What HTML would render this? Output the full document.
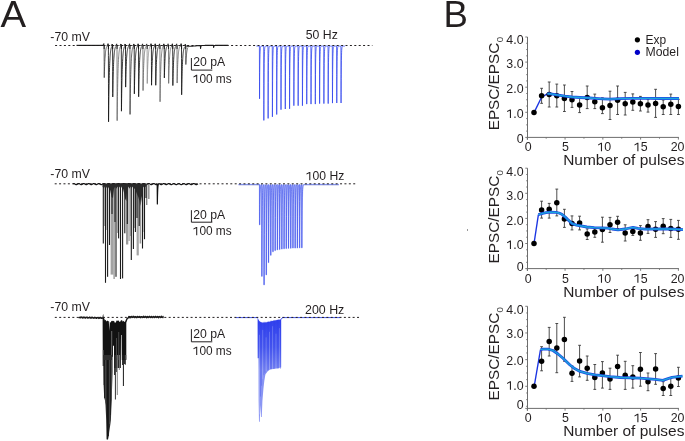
<!DOCTYPE html>
<html><head><meta charset="utf-8"><title>Figure</title>
<style>
html,body{margin:0;padding:0;background:#fff;}
svg{display:block;font-family:"Liberation Sans",sans-serif;will-change:transform;}
</style></head>
<body>
<svg width="685" height="441" viewBox="0 0 685 441">
<rect width="685" height="441" fill="#fff"/>
<text x="0.6" y="27" font-size="37" fill="#231f20" textLength="25.6" lengthAdjust="spacingAndGlyphs">A</text>
<text x="443.6" y="27.1" font-size="37" fill="#231f20" textLength="24.4" lengthAdjust="spacingAndGlyphs">B</text>
<path d="M76.5,45.4 L103.6,45.4" fill="none" stroke="#1a1a1a" stroke-width="1.2" stroke-linejoin="round"/>
<path d="M186.5,46.06 186.6,46.07 186.7,46.07 186.8,46.08 186.9,46.09 187,46.1 187.1,46.1 187.2,46.11 187.3,46.11 187.4,46.12 187.5,46.13 187.6,46.13 187.7,46.14 187.8,46.14 187.9,46.15 188,46.15 188.1,46.16 188.2,46.16 188.3,46.16 188.4,46.17 188.5,46.17 188.6,46.18 188.7,46.18 188.8,46.18 188.9,46.19 189,46.19 189.1,46.19 189.2,46.19 189.3,46.19 189.4,46.2 189.5,46.2 189.6,46.2 189.7,46.2 189.8,46.2 189.9,46.2 190,46.2 190.1,46.2 190.2,46.2 190.3,46.2 190.4,46.2 190.5,46.2 190.6,46.2 190.7,46.19 190.8,46.19 190.9,46.19 191,46.19 191.1,46.19 191.2,46.18 191.3,46.18 191.4,46.18 191.5,46.17 191.6,46.17 191.7,46.16 191.8,46.16 191.9,46.16 192,46.15 192.1,46.15 192.2,46.14 192.3,46.14 192.4,46.13 192.5,46.13 192.6,46.12 192.7,46.11 192.8,46.11 192.9,46.1 193,46.1 193.1,46.09 193.2,46.08 193.3,46.07 193.4,46.07 193.5,46.06 193.6,46.05 193.7,46.05 193.8,46.04 193.9,46.03 194,46.02 194.1,46.02 194.2,46.01 194.3,46 194.4,45.99 194.5,45.98 194.6,45.97 194.7,45.97 194.8,45.96 194.9,45.95 195,45.94 195.1,45.93 195.2,45.92 195.3,45.92 195.4,45.91 195.5,45.9 195.6,45.89 195.7,45.88 195.8,45.87 195.9,45.86 196,45.86 196.1,45.85 196.2,45.84 196.3,45.83 196.4,45.82 196.5,45.81 196.6,45.81 196.7,45.8 196.8,45.79 196.9,45.78 197,45.77 197.1,45.76 197.2,45.76 197.3,45.75 197.4,45.74 197.5,45.73 197.6,45.72 197.7,45.72 197.8,45.71 197.9,45.7 198,45.69 198.1,45.69 198.2,45.68 198.3,45.67 198.4,45.67 198.5,45.66 198.6,45.65 198.7,45.65 198.8,45.64 198.9,45.63 199,45.63 199.1,45.62 199.2,45.61 199.3,45.61 199.4,45.6 199.5,45.6 199.6,45.59 199.7,45.58 199.8,45.58 199.9,45.57 200,45.57 200.1,45.56 200.2,45.56 200.3,45.55 200.39,45.55 200.4,45.55 200.47,47.04 200.5,47.54 200.55,48.54 200.6,48.08 200.7,47.35 200.8,46.83 200.9,46.46 201,46.19 201.1,46 201.2,45.86 201.3,45.76 201.4,45.68 201.5,45.63 201.6,45.59 201.7,45.56 201.8,45.54 201.9,45.52 202,45.51 202.1,45.5 202.2,45.49 202.3,45.48 202.4,45.48 202.5,45.47 202.6,45.47 202.7,45.47 202.8,45.46 202.9,45.46 203,45.46 203.1,45.46 203.2,45.45 203.3,45.45 203.4,45.45 203.5,45.45 203.6,45.44 203.7,45.44 203.8,45.44 203.9,45.44 204,45.44 204.1,45.44 204.2,45.43 204.3,45.43 204.4,45.43 204.5,45.43 204.6,45.43 204.7,45.43 204.8,45.43 204.9,45.42 205,45.42 205.1,45.42 205.2,45.42 205.3,45.42 205.4,45.42 205.5,45.42 205.6,45.42 205.7,45.42 205.8,45.42 205.9,45.42 206,45.41 206.1,45.41 206.2,45.41 206.3,45.41 206.4,45.41 206.5,45.41 206.6,45.41 206.7,45.41 206.8,45.41 206.9,45.41 207,45.41 207.1,45.41 207.2,45.41 207.3,45.41 207.4,45.41 207.5,45.41 207.6,45.41 207.7,45.41 207.8,45.41 207.9,45.41 208,45.41 208.1,45.4 208.2,45.4 208.3,45.4 208.4,45.4 208.5,45.4 208.6,45.4 208.7,45.4 208.8,45.4 208.9,45.4 209,45.4 209.1,45.4 209.2,45.4 209.3,45.4 209.4,45.4 209.5,45.4 209.6,45.4 209.7,45.4 209.8,45.4 209.9,45.4 210,45.4 210.1,45.4 210.2,45.4 210.3,45.4 210.4,45.4 210.5,45.4 210.6,45.4 210.7,45.4 210.8,45.4 210.9,45.4 211,45.4 211.1,45.4 211.2,45.4 211.3,45.4 211.4,45.4 211.5,45.4 211.6,45.4 211.7,45.4 211.8,45.4 211.9,45.4 212,45.4 212.1,45.4 212.2,45.4 212.3,45.4 212.4,45.4 212.5,45.4 212.6,45.4 212.7,45.4 212.8,45.4 212.9,45.4 213,45.4 213.1,45.4 213.2,45.4 213.3,45.4 213.4,45.4 213.49,45.4 213.5,45.4 213.57,46.4 213.6,46.73 213.65,47.4 213.7,47.09 213.8,46.61 213.9,46.27 214,46.02 214.1,45.85 214.2,45.72 214.3,45.63 214.4,45.56 214.5,45.52 214.6,45.48 214.7,45.46 214.8,45.44 214.9,45.43 215,45.42 215.1,45.42 215.2,45.41 215.3,45.41 215.4,45.41 215.5,45.4 215.6,45.4 215.7,45.4 215.8,45.4 215.9,45.4 216,45.4 216.1,45.4 216.2,45.4 216.3,45.4 216.4,45.4 216.5,45.4 216.6,45.4 216.7,45.4 216.8,45.4 216.9,45.4 217,45.4 217.1,45.4 217.2,45.4 217.3,45.4 217.4,45.4 217.5,45.4 217.6,45.4 217.7,45.4 217.8,45.4 217.9,45.4 218,45.4 218.1,45.4 218.2,45.4 218.3,45.4 218.4,45.4 218.5,45.4 218.6,45.4 218.7,45.4 218.8,45.4 218.9,45.4 219,45.4 219.1,45.4 219.2,45.4 219.3,45.4 219.4,45.4 219.5,45.4 219.6,45.4 219.7,45.4 219.8,45.4 219.9,45.4 220,45.4 220.1,45.4 220.2,45.4 220.3,45.4 220.4,45.4 220.5,45.4 220.6,45.4 220.7,45.4 220.8,45.4 220.9,45.4 221,45.4 221.1,45.4 221.2,45.4 221.3,45.4 221.4,45.4 221.5,45.4 221.6,45.4 221.7,45.4 221.8,45.4 221.9,45.4 222,45.4 222.1,45.4 222.2,45.4 222.3,45.4 222.4,45.4 222.5,45.4 222.6,45.4 222.7,45.4 222.8,45.4 222.9,45.4 223,45.4 223.1,45.4 223.2,45.4 223.3,45.4 223.4,45.4 223.5,45.4 223.6,45.4 223.7,45.4 223.8,45.4 223.9,45.4 224,45.4 224.1,45.4 224.2,45.4 224.3,45.4 224.4,45.4 224.5,45.4 224.6,45.4 224.7,45.4 224.8,45.4 224.9,45.4 225,45.4 225.1,45.4 225.2,45.4 225.3,45.4 225.4,45.4 225.5,45.4 225.6,45.4 225.7,45.4 225.8,45.4 225.9,45.4 226,45.4 226.1,45.4 226.2,45.4 226.3,45.4 226.4,45.4 226.5,45.4 226.6,45.4 226.7,45.4 226.8,45.4 226.9,45.4 227,45.4 227.1,45.4 227.2,45.4 227.3,45.4 227.4,45.4 227.5,45.4 227.6,45.4 227.7,45.4 227.8,45.4 227.9,45.4 228,45.4 228.1,45.4 228.2,45.4 228.3,45.4" fill="none" stroke="#1a1a1a" stroke-width="1.1" stroke-linejoin="round"/>
<path d="M102.66,45.4 102.74,45.4 102.82,45.4 102.9,45.4 102.98,45.4 103.06,45.4 103.14,45.4 103.22,45.4 103.3,45.4 103.38,45.4 103.46,45.4 103.54,45.4 103.62,45.4 103.64,45.4 103.65,45.4 103.7,44.73 103.72,44.4 103.78,43.67 103.8,43.4 103.85,44.08 103.86,44.19 103.94,44.78 104.02,45.08 104.09,45.22 104.1,45.24 104.17,61.46 104.18,62.54 104.25,77.65 104.26,77.26 104.3,75.71 104.34,74.24 104.42,71.51 104.5,69.03 104.58,66.78 104.66,64.75 104.74,62.91 104.82,61.24 104.9,59.73 104.98,58.37 105.06,57.13 105.14,56.02 105.22,55.01 105.3,54.09 105.38,53.27 105.46,52.52 105.54,51.84 105.62,51.23 105.7,50.67 105.78,50.17 105.86,49.72 105.94,49.31 106.02,48.93 106.1,48.6 106.18,48.29 106.26,48.02 106.34,47.77 106.42,47.54 106.5,47.34 106.58,47.16 106.66,46.99 106.74,46.84 106.82,46.7 106.9,46.58 106.98,46.46 107.06,46.36 107.14,46.27 107.22,46.19" fill="none" stroke="#444" stroke-width="0.85" stroke-linejoin="round"/>
<path d="M107.22,46.19 107.3,46.11 107.38,46.05 107.46,45.98 107.54,45.93 107.62,45.88 107.7,45.83 107.78,45.79 107.86,45.75 107.94,45.72 107.95,45.72 108.02,44.76 108.03,44.69 108.1,43.66 108.15,44.33 108.18,44.61 108.26,45.09 108.34,45.32 108.39,45.4 108.4,45.42 108.42,55.61 108.47,83.63 108.5,96.35 108.55,121.8 108.58,119 108.6,117.19 108.66,112.01 108.74,105.68 108.82,99.95 108.9,94.76 108.98,90.06 109.06,85.81 109.14,81.97 109.22,78.49 109.3,75.34 109.38,72.49 109.46,69.91 109.54,67.58 109.62,65.47 109.7,63.56 109.78,61.83 109.86,60.27 109.94,58.85 110.02,57.57 110.1,56.41 110.18,55.37 110.26,54.42 110.34,53.56 110.42,52.78 110.5,52.08 110.58,51.44 110.66,50.87 110.74,50.35 110.82,49.88 110.9,49.45 110.98,49.07 111.06,48.72 111.14,48.4 111.22,48.12 111.3,47.86 111.38,47.62" fill="none" stroke="#151515" stroke-width="0.85" stroke-linejoin="round"/>
<path d="M111.38,47.62 111.46,47.41 111.54,47.22 111.62,47.05 111.7,46.89 111.78,46.75 111.86,46.62 111.94,46.5 112.02,46.4 112.1,46.3 112.14,46.26 112.15,46.25 112.18,45.82 112.22,45.17 112.26,44.67 112.3,44.1 112.34,44.64 112.35,44.74 112.42,45.27 112.5,45.57 112.58,45.7 112.59,45.71 112.6,45.72 112.66,66.23 112.67,71.35 112.74,93.54 112.75,96.95 112.8,93.84 112.82,92.65 112.9,88.17 112.98,84.1 113.06,80.42 113.14,77.09 113.22,74.07 113.3,71.35 113.38,68.88 113.46,66.64 113.54,64.62 113.62,62.79 113.7,61.14 113.78,59.64 113.86,58.28 113.94,57.06 114.02,55.95 114.1,54.95 114.18,54.04 114.26,53.21 114.34,52.47 114.42,51.8 114.5,51.19 114.58,50.64 114.66,50.14 114.74,49.69 114.82,49.28 114.9,48.91 114.98,48.58 115.06,48.27 115.14,48 115.22,47.75 115.3,47.53 115.38,47.33 115.46,47.14 115.54,46.98 115.62,46.83 115.7,46.69 115.78,46.57" fill="none" stroke="#151515" stroke-width="0.85" stroke-linejoin="round"/>
<path d="M115.78,46.57 115.86,46.46 115.94,46.36 116.02,46.27 116.1,46.18 116.18,46.11 116.26,46.04 116.34,45.98 116.42,45.93 116.5,45.88 116.54,45.85 116.55,45.85 116.58,45.43 116.62,44.81 116.66,44.32 116.7,43.77 116.74,44.32 116.75,44.43 116.82,44.98 116.9,45.31 116.98,45.47 116.99,45.48 117,45.49 117.06,75.58 117.08,83.09 117.14,115.66 117.15,120.66 117.2,116.12 117.22,114.38 117.3,107.82 117.38,101.89 117.46,96.51 117.54,91.65 117.62,87.25 117.7,83.27 117.78,79.66 117.86,76.4 117.94,73.45 118.02,70.78 118.1,68.37 118.18,66.18 118.26,64.21 118.34,62.42 118.42,60.8 118.5,59.33 118.58,58.01 118.66,56.81 118.74,55.72 118.82,54.74 118.9,53.85 118.98,53.05 119.06,52.32 119.14,51.66 119.22,51.06 119.3,50.52 119.38,50.04 119.46,49.6 119.54,49.2 119.62,48.84 119.7,48.51 119.78,48.21 119.86,47.94 119.94,47.7 120.02,47.48 120.1,47.29" fill="none" stroke="#6a6a6a" stroke-width="0.85" stroke-linejoin="round"/>
<path d="M120.1,47.29 120.18,47.11 120.26,46.94 120.34,46.8 120.42,46.66 120.5,46.54 120.58,46.43 120.66,46.34 120.74,46.25 120.82,46.17 120.84,46.15 120.85,46.14 120.9,45.43 120.92,45.07 120.98,44.29 121,44.01 121.05,44.66 121.06,44.75 121.14,45.29 121.22,45.55 121.29,45.65 121.3,45.66 121.38,78.45 121.38,80.63 121.45,111.2 121.46,110.39 121.5,107.23 121.54,104.22 121.62,98.63 121.7,93.57 121.78,88.99 121.86,84.84 121.94,81.09 122.02,77.69 122.1,74.62 122.18,71.84 122.26,69.32 122.34,67.05 122.42,64.99 122.5,63.12 122.58,61.44 122.66,59.91 122.74,58.53 122.82,57.28 122.9,56.15 122.98,55.13 123.06,54.2 123.14,53.36 123.22,52.61 123.3,51.92 123.38,51.3 123.46,50.74 123.54,50.23 123.62,49.77 123.7,49.35 123.78,48.98 123.86,48.64 123.94,48.33 124.02,48.05 124.1,47.8 124.18,47.57 124.26,47.36 124.34,47.18" fill="none" stroke="#151515" stroke-width="0.85" stroke-linejoin="round"/>
<path d="M124.26,47.36 124.34,47.18 124.42,47.01 124.5,46.85 124.58,46.72 124.66,46.59 124.74,46.48 124.82,46.38 124.9,46.28 124.98,46.2 125.04,46.14 125.05,46.13 125.06,45.99 125.12,45.07 125.14,44.85 125.2,44.01 125.22,44.3 125.25,44.65 125.3,45.07 125.38,45.44 125.46,45.61 125.49,45.64 125.5,45.65 125.54,56.72 125.58,66.39 125.62,78.82 125.65,87.1 125.7,84.59 125.78,80.87 125.86,77.5 125.94,74.45 126.02,71.69 126.1,69.18 126.18,66.92 126.26,64.87 126.34,63.02 126.42,61.34 126.5,59.83 126.58,58.45 126.66,57.21 126.74,56.09 126.82,55.07 126.9,54.15 126.98,53.32 127.06,52.56 127.14,51.88 127.22,51.27 127.3,50.71 127.38,50.2 127.46,49.75 127.54,49.33 127.62,48.96 127.7,48.62 127.78,48.31 127.86,48.04 127.94,47.78 128.02,47.56 128.1,47.35 128.18,47.17 128.26,47 128.34,46.85 128.42,46.71 128.5,46.58 128.58,46.47 128.66,46.37 128.74,46.28" fill="none" stroke="#151515" stroke-width="0.85" stroke-linejoin="round"/>
<path d="M128.66,46.37 128.74,46.28 128.82,46.19 128.9,46.12 128.98,46.05 129.06,45.99 129.14,45.93 129.22,45.88 129.3,45.84 129.38,45.79 129.44,45.77 129.45,45.76 129.46,45.62 129.53,44.73 129.54,44.52 129.6,43.7 129.62,44 129.65,44.36 129.7,44.8 129.78,45.19 129.86,45.39 129.89,45.43 129.9,45.44 129.94,63.85 129.97,79.95 130.02,100.64 130.05,114.42 130.1,110.25 130.18,104.1 130.26,98.52 130.34,93.46 130.42,88.89 130.5,84.75 130.58,81.01 130.66,77.62 130.74,74.55 130.82,71.78 130.9,69.27 130.98,67 131.06,64.94 131.14,63.08 131.22,61.4 131.3,59.88 131.38,58.5 131.46,57.25 131.54,56.13 131.62,55.1 131.7,54.18 131.78,53.35 131.86,52.59 131.94,51.91 132.02,51.29 132.1,50.73 132.18,50.22 132.26,49.76 132.34,49.35 132.42,48.97 132.5,48.63 132.58,48.32 132.66,48.04 132.74,47.79 132.82,47.57 132.9,47.36 132.98,47.17" fill="none" stroke="#444" stroke-width="0.85" stroke-linejoin="round"/>
<path d="M132.98,47.17 133.06,47 133.14,46.85 133.22,46.71 133.3,46.59 133.38,46.48 133.46,46.37 133.54,46.28 133.62,46.2 133.7,46.12 133.74,46.09 133.75,46.08 133.78,45.65 133.82,45.02 133.86,44.52 133.9,43.96 133.94,44.5 133.95,44.61 134.02,45.15 134.1,45.46 134.18,45.6 134.19,45.61 134.2,45.62 134.26,64.94 134.28,69.76 134.34,90.66 134.35,93.87 134.4,90.95 134.42,89.83 134.5,85.61 134.58,81.79 134.66,78.33 134.74,75.2 134.82,72.36 134.9,69.8 134.98,67.48 135.06,65.37 135.14,63.47 135.22,61.75 135.3,60.2 135.38,58.79 135.46,57.52 135.54,56.36 135.62,55.32 135.7,54.38 135.78,53.52 135.86,52.75 135.94,52.05 136.02,51.42 136.1,50.84 136.18,50.33 136.26,49.86 136.34,49.43 136.42,49.05 136.5,48.7 136.58,48.39 136.66,48.1 136.74,47.85 136.82,47.61 136.9,47.4 136.98,47.21 137.06,47.04 137.14,46.88 137.22,46.74 137.3,46.61" fill="none" stroke="#151515" stroke-width="0.85" stroke-linejoin="round"/>
<path d="M137.3,46.61 137.38,46.5 137.46,46.39 137.54,46.3 137.62,46.21 137.7,46.14 137.78,46.07 137.86,46 137.94,45.95 138.02,45.89 138.04,45.88 138.05,45.88 138.1,45.18 138.12,44.83 138.18,44.07 138.2,43.79 138.25,44.45 138.26,44.55 138.34,45.11 138.42,45.38 138.49,45.5 138.5,45.51 138.57,71.16 138.58,72.87 138.65,96.78 138.66,96.14 138.7,93.68 138.74,91.33 138.82,86.97 138.9,83.02 138.98,79.44 139.06,76.2 139.14,73.27 139.22,70.62 139.3,68.22 139.38,66.05 139.46,64.08 139.54,62.31 139.62,60.7 139.7,59.24 139.78,57.92 139.86,56.73 139.94,55.65 140.02,54.68 140.1,53.79 140.18,53 140.26,52.27 140.34,51.62 140.42,51.03 140.5,50.49 140.58,50.01 140.66,49.57 140.74,49.17 140.82,48.81 140.9,48.49 140.98,48.19 141.06,47.93 141.14,47.69 141.22,47.47 141.3,47.27 141.38,47.09 141.46,46.93 141.54,46.79 141.62,46.66 141.7,46.54" fill="none" stroke="#151515" stroke-width="0.85" stroke-linejoin="round"/>
<path d="M141.7,46.54 141.78,46.43 141.86,46.33 141.94,46.24 142.02,46.16 142.1,46.09 142.18,46.02 142.26,45.96 142.34,45.91 142.42,45.86 142.44,45.85 142.45,45.84 142.5,45.15 142.53,44.81 142.58,44.04 142.6,43.77 142.65,44.43 142.66,44.53 142.74,45.09 142.82,45.36 142.89,45.48 142.9,45.49 142.97,68.04 142.98,69.55 143.05,90.56 143.06,90.01 143.1,87.84 143.14,85.78 143.22,81.94 143.3,78.47 143.38,75.33 143.46,72.48 143.54,69.9 143.62,67.57 143.7,65.46 143.78,63.55 143.86,61.83 143.94,60.26 144.02,58.85 144.1,57.57 144.18,56.41 144.26,55.36 144.34,54.41 144.42,53.56 144.5,52.78 144.58,52.08 144.66,51.44 144.74,50.87 144.82,50.35 144.9,49.88 144.98,49.45 145.06,49.06 145.14,48.72 145.22,48.4 145.3,48.12 145.38,47.86 145.46,47.62 145.54,47.41 145.62,47.22 145.7,47.05 145.78,46.89 145.86,46.75 145.94,46.62" fill="none" stroke="#6a6a6a" stroke-width="0.85" stroke-linejoin="round"/>
<path d="M145.86,46.75 145.94,46.62 146.02,46.5 146.1,46.4 146.18,46.3 146.26,46.22 146.34,46.14 146.42,46.07 146.5,46.01 146.58,45.95 146.64,45.91 146.65,45.9 146.66,45.76 146.72,44.86 146.74,44.65 146.8,43.82 146.82,44.11 146.85,44.47 146.9,44.9 146.98,45.29 147.06,45.47 147.09,45.51 147.1,45.52 147.14,55.66 147.18,64.52 147.22,75.91 147.25,83.49 147.3,81.2 147.38,77.8 147.46,74.72 147.54,71.94 147.62,69.41 147.7,67.13 147.78,65.06 147.86,63.19 147.94,61.5 148.02,59.97 148.1,58.58 148.18,57.33 148.26,56.19 148.34,55.16 148.42,54.23 148.5,53.39 148.58,52.63 148.66,51.94 148.74,51.32 148.82,50.76 148.9,50.25 148.98,49.79 149.06,49.37 149.14,48.99 149.22,48.65 149.3,48.34 149.38,48.06 149.46,47.81 149.54,47.58 149.62,47.37 149.7,47.18 149.78,47.01 149.86,46.86 149.94,46.72 150.02,46.6 150.1,46.48 150.18,46.38" fill="none" stroke="#909090" stroke-width="0.85" stroke-linejoin="round"/>
<path d="M150.18,46.38 150.26,46.29 150.34,46.2 150.42,46.13 150.5,46.06 150.58,45.99 150.66,45.94 150.74,45.89 150.82,45.84 150.9,45.8 150.94,45.78 150.95,45.77 150.98,45.36 151.03,44.74 151.06,44.26 151.1,43.71 151.14,44.26 151.15,44.37 151.22,44.93 151.3,45.26 151.38,45.42 151.39,45.44 151.4,45.45 151.46,61.38 151.47,65.36 151.54,82.58 151.55,85.23 151.6,82.83 151.62,81.91 151.7,78.45 151.78,75.31 151.86,72.46 151.94,69.89 152.02,67.56 152.1,65.45 152.18,63.54 152.26,61.82 152.34,60.25 152.42,58.84 152.5,57.56 152.58,56.4 152.66,55.36 152.74,54.41 152.82,53.55 152.9,52.78 152.98,52.07 153.06,51.44 153.14,50.86 153.22,50.34 153.3,49.87 153.38,49.45 153.46,49.06 153.54,48.71 153.62,48.4 153.7,48.11 153.78,47.86 153.86,47.62 153.94,47.41 154.02,47.22 154.1,47.05 154.18,46.89 154.26,46.75 154.34,46.62 154.42,46.5" fill="none" stroke="#151515" stroke-width="0.85" stroke-linejoin="round"/>
<path d="M154.42,46.5 154.5,46.4 154.58,46.3 154.66,46.22 154.74,46.14 154.82,46.07 154.9,46.01 154.98,45.95 155.06,45.9 155.14,45.85 155.15,45.84 155.22,44.87 155.22,44.8 155.3,43.77 155.35,44.43 155.38,44.71 155.46,45.17 155.54,45.4 155.59,45.48 155.6,45.49 155.62,50.8 155.68,65.39 155.7,72.02 155.75,85.26 155.78,83.8 155.8,82.86 155.86,80.16 155.94,76.86 156.02,73.87 156.1,71.16 156.18,68.71 156.26,66.5 156.34,64.49 156.42,62.67 156.5,61.03 156.58,59.54 156.66,58.2 156.74,56.98 156.82,55.88 156.9,54.88 156.98,53.98 157.06,53.16 157.14,52.42 157.22,51.75 157.3,51.15 157.38,50.6 157.46,50.11 157.54,49.66 157.62,49.25 157.7,48.89 157.78,48.56 157.86,48.26 157.94,47.98 158.02,47.74 158.1,47.52 158.18,47.31 158.26,47.13 158.34,46.97 158.42,46.82 158.5,46.68 158.58,46.56 158.66,46.45 158.74,46.35" fill="none" stroke="#151515" stroke-width="0.85" stroke-linejoin="round"/>
<path d="M158.66,46.45 158.74,46.35 158.82,46.26 158.9,46.18 158.98,46.1 159.06,46.04 159.14,45.98 159.22,45.92 159.3,45.87 159.38,45.83 159.44,45.8 159.45,45.79 159.46,45.65 159.53,44.76 159.54,44.55 159.6,43.72 159.62,44.02 159.65,44.39 159.7,44.82 159.78,45.21 159.86,45.41 159.89,45.45 159.9,45.46 159.94,60.48 159.97,73.62 160.02,90.49 160.05,101.74 160.1,98.34 160.18,93.31 160.26,88.76 160.34,84.64 160.42,80.9 160.5,77.53 160.58,74.47 160.66,71.7 160.74,69.2 160.82,66.94 160.9,64.89 160.98,63.03 161.06,61.35 161.14,59.84 161.22,58.46 161.3,57.22 161.38,56.09 161.46,55.08 161.54,54.16 161.62,53.32 161.7,52.57 161.78,51.89 161.86,51.27 161.94,50.71 162.02,50.21 162.1,49.75 162.18,49.33 162.26,48.96 162.34,48.62 162.42,48.31 162.5,48.04 162.58,47.79 162.66,47.56 162.74,47.35 162.82,47.17 162.9,47 162.98,46.85" fill="none" stroke="#6a6a6a" stroke-width="0.85" stroke-linejoin="round"/>
<path d="M162.98,46.85 163.06,46.71 163.14,46.58 163.22,46.47 163.3,46.37 163.38,46.28 163.46,46.19 163.54,46.12 163.62,46.05 163.7,45.99 163.74,45.96 163.75,45.95 163.78,45.53 163.82,44.9 163.86,44.42 163.9,43.86 163.94,44.4 163.95,44.51 164.02,45.06 164.1,45.38 164.18,45.53 164.19,45.54 164.2,45.55 164.26,58.51 164.28,61.75 164.34,75.76 164.35,77.91 164.4,75.96 164.42,75.21 164.5,72.38 164.58,69.82 164.66,67.5 164.74,65.4 164.82,63.49 164.9,61.77 164.98,60.21 165.06,58.8 165.14,57.53 165.22,56.37 165.3,55.33 165.38,54.39 165.46,53.53 165.54,52.76 165.62,52.06 165.7,51.42 165.78,50.85 165.86,50.33 165.94,49.86 166.02,49.44 166.1,49.05 166.18,48.71 166.26,48.39 166.34,48.11 166.42,47.85 166.5,47.62 166.58,47.4 166.66,47.21 166.74,47.04 166.82,46.89 166.9,46.74 166.98,46.62 167.06,46.5 167.14,46.4 167.22,46.3 167.3,46.22" fill="none" stroke="#151515" stroke-width="0.85" stroke-linejoin="round"/>
<path d="M167.3,46.22 167.38,46.14 167.46,46.07 167.54,46 167.62,45.95 167.7,45.89 167.78,45.85 167.86,45.8 167.94,45.77 168.02,45.73 168.04,45.72 168.05,45.72 168.1,45.03 168.12,44.69 168.18,43.94 168.2,43.66 168.25,44.33 168.26,44.43 168.34,45 168.42,45.28 168.49,45.41 168.5,45.42 168.57,64.43 168.58,65.69 168.65,83.4 168.66,82.93 168.7,81.11 168.74,79.38 168.82,76.15 168.9,73.23 168.98,70.59 169.06,68.19 169.14,66.02 169.22,64.06 169.3,62.28 169.38,60.68 169.46,59.22 169.54,57.91 169.62,56.72 169.7,55.64 169.78,54.67 169.86,53.78 169.94,52.99 170.02,52.26 170.1,51.61 170.18,51.02 170.26,50.49 170.34,50 170.42,49.56 170.5,49.17 170.58,48.81 170.66,48.48 170.74,48.19 170.82,47.93 170.9,47.69 170.98,47.47 171.06,47.27 171.14,47.09 171.22,46.93 171.3,46.79 171.38,46.65 171.46,46.53 171.54,46.43" fill="none" stroke="#6a6a6a" stroke-width="0.85" stroke-linejoin="round"/>
<path d="M171.46,46.53 171.54,46.43 171.62,46.33 171.7,46.24 171.78,46.16 171.86,46.09 171.94,46.02 172.02,45.96 172.1,45.91 172.18,45.86 172.24,45.83 172.25,45.82 172.26,45.68 172.32,44.78 172.34,44.58 172.4,43.75 172.42,44.05 172.45,44.41 172.5,44.84 172.58,45.23 172.66,45.42 172.69,45.47 172.7,45.48 172.74,56.18 172.78,65.53 172.82,77.55 172.85,85.55 172.9,83.13 172.98,79.55 173.06,76.31 173.14,73.37 173.22,70.71 173.3,68.3 173.38,66.12 173.46,64.15 173.54,62.37 173.62,60.75 173.7,59.29 173.78,57.97 173.86,56.77 173.94,55.69 174.02,54.71 174.1,53.83 174.18,53.02 174.26,52.3 174.34,51.64 174.42,51.05 174.5,50.51 174.58,50.02 174.66,49.58 174.74,49.19 174.82,48.83 174.9,48.5 174.98,48.2 175.06,47.94 175.14,47.7 175.22,47.48 175.3,47.28 175.38,47.1 175.46,46.94 175.54,46.79 175.62,46.66 175.7,46.54 175.78,46.43" fill="none" stroke="#151515" stroke-width="0.85" stroke-linejoin="round"/>
<path d="M175.78,46.43 175.86,46.33 175.94,46.24 176.02,46.16 176.1,46.09 176.18,46.03 176.26,45.97 176.34,45.91 176.42,45.86 176.5,45.82 176.54,45.8 176.55,45.79 176.58,45.38 176.62,44.76 176.66,44.28 176.7,43.73 176.74,44.28 176.75,44.39 176.82,44.95 176.9,45.28 176.98,45.44 176.99,45.45 177,45.46 177.06,60.51 177.07,64.27 177.14,80.54 177.15,83.04 177.2,80.77 177.22,79.9 177.3,76.63 177.38,73.66 177.46,70.98 177.54,68.54 177.62,66.34 177.7,64.35 177.78,62.55 177.86,60.91 177.94,59.44 178.02,58.1 178.1,56.89 178.18,55.8 178.26,54.81 178.34,53.91 178.42,53.1 178.5,52.37 178.58,51.71 178.66,51.11 178.74,50.56 178.82,50.07 178.9,49.63 178.98,49.23 179.06,48.86 179.14,48.53 179.22,48.23 179.3,47.96 179.38,47.72 179.46,47.5 179.54,47.3 179.62,47.12 179.7,46.96 179.78,46.81 179.86,46.67 179.94,46.55 180.02,46.44 180.1,46.34 180.18,46.25 180.26,46.17 180.34,46.1" fill="none" stroke="#6a6a6a" stroke-width="0.85" stroke-linejoin="round"/>
<path d="M180.26,46.17 180.34,46.1 180.42,46.03 180.5,45.97 180.58,45.92 180.66,45.87 180.74,45.82 180.82,45.78 180.9,45.75 180.98,45.71 181.04,45.69 181.05,45.69 181.06,45.55 181.12,44.66 181.14,44.46 181.2,43.64 181.22,43.94 181.25,44.31 181.3,44.74 181.38,45.14 181.46,45.34 181.49,45.39 181.5,45.4 181.54,58.58 181.57,70.11 181.62,84.92 181.65,94.79 181.7,91.81 181.78,87.41 181.86,83.41 181.94,79.8 182.02,76.82 182.1,73.87 182.18,71.19 182.26,68.78 182.34,66.59 182.42,64.61 182.5,62.82 182.58,61.2 182.66,59.73 182.74,58.41 182.82,57.21 182.9,56.13 182.98,55.15 183.06,54.26 183.14,53.46 183.22,52.74 183.3,52.08 183.38,51.49 183.46,50.96 183.54,50.47 183.62,50.04 183.7,49.64 183.78,49.29 183.86,48.96 183.94,48.67 184.02,48.41 184.1,48.18 184.18,47.96 184.26,47.77 184.34,47.6 184.42,47.44 184.5,47.3" fill="none" stroke="#151515" stroke-width="0.85" stroke-linejoin="round"/>
<path d="M184.5,47.3 184.58,47.17 184.66,47.06 184.74,46.96 184.82,46.87 184.9,46.78 184.98,46.71 185.06,46.64 185.14,46.58 185.22,46.53 185.24,46.52 185.25,46.51 185.3,45.82 185.32,45.47 185.38,44.71 185.4,44.43 185.45,45.09 185.46,45.19 185.54,45.75 185.62,46.02 185.69,46.14 185.7,46.15 185.78,55.35 185.78,55.96 185.85,64.52 185.86,64.3 185.9,63.42 185.94,62.58 186.02,61.02 186.1,59.6 186.18,58.32 186.26,57.16 186.34,56.11 186.42,55.16 186.5,54.3 186.58,53.52 186.66,52.81 186.74,52.18 186.82,51.6 186.9,51.08 186.98,50.61 187.06,50.19 187.14,49.8 187.22,49.46 187.3,49.14 187.38,48.86 187.46,48.6 187.54,48.37 187.62,48.16 187.7,47.97 187.78,47.8 187.86,47.65 187.94,47.51" fill="none" stroke="#444" stroke-width="0.85" stroke-linejoin="round"/>
<path d="M102.6,45.9 Q103.5,43.4 104.2,45.0 L104.15,49.0" fill="none" stroke="#111" stroke-width="0.9"/>
<path d="M106.9,45.9 Q107.8,43.4 108.5,45.0 L108.45,49.0" fill="none" stroke="#111" stroke-width="0.9"/>
<path d="M111.1,45.9 Q112,43.4 112.7,45.0 L112.65,49.0" fill="none" stroke="#111" stroke-width="0.9"/>
<path d="M115.5,45.9 Q116.4,43.4 117.1,45.0 L117.05,49.0" fill="none" stroke="#111" stroke-width="0.9"/>
<path d="M119.8,45.9 Q120.7,43.4 121.4,45.0 L121.35,49.0" fill="none" stroke="#111" stroke-width="0.9"/>
<path d="M124,45.9 Q124.9,43.4 125.6,45.0 L125.55,49.0" fill="none" stroke="#111" stroke-width="0.9"/>
<path d="M128.4,45.9 Q129.3,43.4 130,45.0 L129.95,49.0" fill="none" stroke="#111" stroke-width="0.9"/>
<path d="M132.7,45.9 Q133.6,43.4 134.3,45.0 L134.25,49.0" fill="none" stroke="#111" stroke-width="0.9"/>
<path d="M137,45.9 Q137.9,43.4 138.6,45.0 L138.55,49.0" fill="none" stroke="#111" stroke-width="0.9"/>
<path d="M141.4,45.9 Q142.3,43.4 143,45.0 L142.95,49.0" fill="none" stroke="#111" stroke-width="0.9"/>
<path d="M145.6,45.9 Q146.5,43.4 147.2,45.0 L147.15,49.0" fill="none" stroke="#111" stroke-width="0.9"/>
<path d="M149.9,45.9 Q150.8,43.4 151.5,45.0 L151.45,49.0" fill="none" stroke="#111" stroke-width="0.9"/>
<path d="M154.1,45.9 Q155,43.4 155.7,45.0 L155.65,49.0" fill="none" stroke="#111" stroke-width="0.9"/>
<path d="M158.4,45.9 Q159.3,43.4 160,45.0 L159.95,49.0" fill="none" stroke="#111" stroke-width="0.9"/>
<path d="M162.7,45.9 Q163.6,43.4 164.3,45.0 L164.25,49.0" fill="none" stroke="#111" stroke-width="0.9"/>
<path d="M167,45.9 Q167.9,43.4 168.6,45.0 L168.55,49.0" fill="none" stroke="#111" stroke-width="0.9"/>
<path d="M171.2,45.9 Q172.1,43.4 172.8,45.0 L172.75,49.0" fill="none" stroke="#111" stroke-width="0.9"/>
<path d="M175.5,45.9 Q176.4,43.4 177.1,45.0 L177.05,49.0" fill="none" stroke="#111" stroke-width="0.9"/>
<path d="M180,45.9 Q180.9,43.4 181.6,45.0 L181.55,49.0" fill="none" stroke="#111" stroke-width="0.9"/>
<path d="M184.2,45.9 Q185.1,43.4 185.8,45.0 L185.75,49.0" fill="none" stroke="#111" stroke-width="0.9"/>
<path d="M256.4,46.1 256.5,46.1 256.6,46.1 256.7,46.1 256.8,46.1 256.9,46.1 257,46.1 257.1,46.1 257.2,46.1 257.3,46.1 257.4,46.1 257.5,46.1 257.6,46.1 257.7,46.1 257.8,46.1 257.9,46.1 258,46.1 258.1,46.1 258.2,46.1 258.3,46.1 258.4,46.1 258.5,46.1 258.6,46.1 258.7,46.1 258.8,46.1 258.9,46.1 259,46.1 259.1,46.1 259.2,46.1 259.3,46.1 259.39,46.1 259.4,46.1 259.48,72.45 259.5,81.23 259.55,98.8 259.6,89.25 259.7,75.02 259.8,65.49 259.9,59.1 260,54.81 260.1,51.94 260.2,50.01 260.3,48.72 260.4,47.86 260.5,47.28 260.6,46.89 260.7,46.63 260.8,46.46 260.9,46.34 261,46.26 261.1,46.21 261.2,46.17 261.3,46.15 261.4,46.13 261.5,46.12 261.6,46.11 261.7,46.11 261.8,46.11 261.9,46.1 262,46.1 262.1,46.1 262.2,46.1 262.3,46.1 262.4,46.1 262.5,46.1 262.6,46.1 262.7,46.1 262.8,46.1 262.9,46.1 263,46.1 263.1,46.1 263.2,46.1 263.3,46.1 263.4,46.1 263.5,46.1 263.6,46.1 263.68,46.1 263.69,46.1 263.7,51.05 263.76,83.25 263.8,100.59 263.84,120.4 263.89,106.93 263.9,104.55 264,85.28 264.1,72.36 264.2,63.7 264.3,57.9 264.4,54.01 264.5,51.4 264.6,49.65 264.7,48.48 264.8,47.7 264.9,47.17 265,46.82 265.1,46.58 265.2,46.42 265.3,46.32 265.4,46.24 265.5,46.2 265.6,46.17 265.7,46.14 265.8,46.13 265.9,46.12 266,46.11 266.1,46.11 266.2,46.11 266.3,46.1 266.4,46.1 266.5,46.1 266.6,46.1 266.7,46.1 266.8,46.1 266.9,46.1 267,46.1 267.1,46.1 267.2,46.1 267.3,46.1 267.4,46.1 267.5,46.1 267.6,46.1 267.7,46.1 267.8,46.1 267.9,46.1 267.97,46.1 267.98,46.1 268,55.74 268.06,82.25 268.1,103.94 268.13,118.4 268.18,105.29 268.2,100.74 268.3,82.73 268.4,70.65 268.5,62.56 268.6,57.13 268.7,53.5 268.8,51.06 268.9,49.42 269,48.33 269.1,47.59 269.2,47.1 269.3,46.77 269.4,46.55 269.5,46.4 269.6,46.3 269.7,46.24 269.8,46.19 269.9,46.16 270,46.14 270.1,46.13 270.2,46.12 270.3,46.11 270.4,46.11 270.5,46.11 270.6,46.1 270.7,46.1 270.8,46.1 270.9,46.1 271,46.1 271.1,46.1 271.2,46.1 271.3,46.1 271.4,46.1 271.5,46.1 271.6,46.1 271.7,46.1 271.8,46.1 271.9,46.1 272,46.1 272.1,46.1 272.2,46.1 272.26,46.1 272.27,46.1 272.3,60.24 272.35,81.45 272.4,107.37 272.42,116.8 272.47,103.98 272.5,97.44 272.6,80.51 272.7,69.17 272.8,61.56 272.9,56.47 273,53.05 273.1,50.76 273.2,49.22 273.3,48.19 273.4,47.5 273.5,47.04 273.6,46.73 273.7,46.52 273.8,46.38 273.9,46.29 274,46.23 274.1,46.19 274.2,46.16 274.3,46.14 274.4,46.13 274.5,46.12 274.6,46.11 274.7,46.11 274.8,46.11 274.9,46.1 275,46.1 275.1,46.1 275.2,46.1 275.3,46.1 275.4,46.1 275.5,46.1 275.6,46.1 275.7,46.1 275.8,46.1 275.9,46.1 276,46.1 276.1,46.1 276.2,46.1 276.3,46.1 276.4,46.1 276.5,46.1 276.55,46.1 276.56,46.1 276.6,64.34 276.63,80.3 276.7,109.94 276.71,114.5 276.76,102.1 276.8,93.82 276.9,78.09 277,67.54 277.1,60.47 277.2,55.73 277.3,52.56 277.4,50.43 277.5,49 277.6,48.05 277.7,47.4 277.8,46.97 277.9,46.69 278,46.49 278.1,46.36 278.2,46.28 278.3,46.22 278.4,46.18 278.5,46.15 278.6,46.14 278.7,46.12 278.8,46.12 278.9,46.11 279,46.11 279.1,46.1 279.2,46.1 279.3,46.1 279.4,46.1 279.5,46.1 279.6,46.1 279.7,46.1 279.8,46.1 279.9,46.1 280,46.1 280.1,46.1 280.2,46.1 280.3,46.1 280.4,46.1 280.5,46.1 280.6,46.1 280.7,46.1 280.8,46.1 280.84,46.1 280.85,46.1 280.9,67.3 280.93,77.9 281,109.7 281.05,98.17 281.1,88.73 281.2,74.68 281.3,65.26 281.4,58.94 281.5,54.71 281.6,51.87 281.7,49.97 281.8,48.69 281.9,47.84 282,47.26 282.1,46.88 282.2,46.62 282.3,46.45 282.4,46.34 282.5,46.26 282.6,46.21 282.7,46.17 282.8,46.15 282.9,46.13 283,46.12 283.1,46.11 283.2,46.11 283.3,46.11 283.4,46.1 283.5,46.1 283.6,46.1 283.7,46.1 283.8,46.1 283.9,46.1 284,46.1 284.1,46.1 284.2,46.1 284.3,46.1 284.4,46.1 284.5,46.1 284.6,46.1 284.7,46.1 284.8,46.1 284.9,46.1 285,46.1 285.1,46.1 285.13,46.1 285.14,46.1 285.2,71.26 285.21,77.55 285.29,109 285.3,106.53 285.34,97.6 285.4,86.61 285.5,73.25 285.6,64.3 285.7,58.3 285.8,54.28 285.9,51.58 286,49.77 286.1,48.56 286.2,47.75 286.3,47.21 286.4,46.84 286.5,46.6 286.6,46.43 286.7,46.32 286.8,46.25 286.9,46.2 287,46.17 287.1,46.15 287.2,46.13 287.3,46.12 287.4,46.11 287.5,46.11 287.6,46.11 287.7,46.1 287.8,46.1 287.9,46.1 288,46.1 288.1,46.1 288.2,46.1 288.3,46.1 288.4,46.1 288.5,46.1 288.6,46.1 288.7,46.1 288.8,46.1 288.9,46.1 289,46.1 289.1,46.1 289.2,46.1 289.3,46.1 289.4,46.1 289.42,46.1 289.43,46.1 289.5,75.36 289.5,77.45 289.58,108.8 289.6,103.98 289.63,97.43 289.7,84.9 289.8,72.11 289.9,63.53 290,57.79 290.1,53.93 290.2,51.35 290.3,49.62 290.4,48.46 290.5,47.68 290.6,47.16 290.7,46.81 290.8,46.58 290.9,46.42 291,46.31 291.1,46.24 291.2,46.2 291.3,46.16 291.4,46.14 291.5,46.13 291.6,46.12 291.7,46.11 291.8,46.11 291.9,46.11 292,46.1 292.1,46.1 292.2,46.1 292.3,46.1 292.4,46.1 292.5,46.1 292.6,46.1 292.7,46.1 292.8,46.1 292.9,46.1 293,46.1 293.1,46.1 293.2,46.1 293.3,46.1 293.4,46.1 293.5,46.1 293.6,46.1 293.7,46.1 293.71,46.1 293.72,46.1 293.8,75.9 293.8,77.89 293.87,105.7 293.9,98.96 293.92,94.9 294,81.53 294.1,69.85 294.2,62.02 294.3,56.77 294.4,53.25 294.5,50.9 294.6,49.31 294.7,48.25 294.8,47.54 294.9,47.07 295,46.75 295.1,46.54 295.2,46.39 295.3,46.3 295.4,46.23 295.5,46.19 295.6,46.16 295.7,46.14 295.8,46.13 295.9,46.12 296,46.11 296.1,46.11 296.2,46.11 296.3,46.1 296.4,46.1 296.5,46.1 296.6,46.1 296.7,46.1 296.8,46.1 296.9,46.1 297,46.1 297.1,46.1 297.2,46.1 297.3,46.1 297.4,46.1 297.5,46.1 297.6,46.1 297.7,46.1 297.8,46.1 297.9,46.1 298,46.1 298.01,46.1 298.08,75.9 298.1,81.86 298.16,105.7 298.2,96.89 298.21,94.9 298.3,80.14 298.4,68.92 298.5,61.4 298.6,56.35 298.7,52.97 298.8,50.71 298.9,49.19 299,48.17 299.1,47.49 299.2,47.03 299.3,46.72 299.4,46.52 299.5,46.38 299.6,46.29 299.7,46.23 299.8,46.18 299.9,46.16 300,46.14 300.1,46.13 300.2,46.12 300.3,46.11 300.4,46.11 300.5,46.11 300.6,46.1 300.7,46.1 300.8,46.1 300.9,46.1 301,46.1 301.1,46.1 301.2,46.1 301.3,46.1 301.4,46.1 301.5,46.1 301.6,46.1 301.7,46.1 301.8,46.1 301.9,46.1 302,46.1 302.1,46.1 302.2,46.1 302.29,46.1 302.3,46.1 302.38,75.9 302.4,85.83 302.45,105.7 302.5,94.9 302.6,78.81 302.7,68.03 302.8,60.8 302.9,55.95 303,52.7 303.1,50.53 303.2,49.07 303.3,48.09 303.4,47.43 303.5,46.99 303.6,46.7 303.7,46.5 303.8,46.37 303.9,46.28 304,46.22 304.1,46.18 304.2,46.15 304.3,46.14 304.4,46.12 304.5,46.12 304.6,46.11 304.7,46.11 304.8,46.1 304.9,46.1 305,46.1 305.1,46.1 305.2,46.1 305.3,46.1 305.4,46.1 305.5,46.1 305.6,46.1 305.7,46.1 305.8,46.1 305.9,46.1 306,46.1 306.1,46.1 306.2,46.1 306.3,46.1 306.4,46.1 306.5,46.1 306.58,46.1 306.59,46.1 306.6,49.97 306.67,75.1 306.7,88.63 306.74,104.1 306.79,93.59 306.8,91.72 306.9,76.68 307,66.6 307.1,59.84 307.2,55.31 307.3,52.27 307.4,50.24 307.5,48.87 307.6,47.96 307.7,47.35 307.8,46.94 307.9,46.66 308,46.48 308.1,46.35 308.2,46.27 308.3,46.21 308.4,46.18 308.5,46.15 308.6,46.13 308.7,46.12 308.8,46.12 308.9,46.11 309,46.11 309.1,46.1 309.2,46.1 309.3,46.1 309.4,46.1 309.5,46.1 309.6,46.1 309.7,46.1 309.8,46.1 309.9,46.1 310,46.1 310.1,46.1 310.2,46.1 310.3,46.1 310.4,46.1 310.5,46.1 310.6,46.1 310.7,46.1 310.8,46.1 310.87,46.1 310.88,46.1 310.9,53.83 310.95,75.1 311,92.5 311.03,104.1 311.08,93.59 311.1,89.94 311.2,75.48 311.3,65.8 311.4,59.3 311.5,54.95 311.6,52.03 311.7,50.08 311.8,48.77 311.9,47.89 312,47.3 312.1,46.9 312.2,46.64 312.3,46.46 312.4,46.34 312.5,46.26 312.6,46.21 312.7,46.17 312.8,46.15 312.9,46.13 313,46.12 313.1,46.11 313.2,46.11 313.3,46.11 313.4,46.1 313.5,46.1 313.6,46.1 313.7,46.1 313.8,46.1 313.9,46.1 314,46.1 314.1,46.1 314.2,46.1 314.3,46.1 314.4,46.1 314.5,46.1 314.6,46.1 314.7,46.1 314.8,46.1 314.9,46.1 315,46.1 315.1,46.1 315.16,46.1 315.17,46.1 315.2,57.7 315.25,75.1 315.3,96.37 315.32,104.1 315.37,93.59 315.4,88.22 315.5,74.33 315.6,65.02 315.7,58.79 315.8,54.6 315.9,51.8 316,49.92 316.1,48.66 316.2,47.82 316.3,47.25 316.4,46.87 316.5,46.62 316.6,46.45 316.7,46.33 316.8,46.26 316.9,46.2 317,46.17 317.1,46.15 317.2,46.13 317.3,46.12 317.4,46.11 317.5,46.11 317.6,46.11 317.7,46.1 317.8,46.1 317.9,46.1 318,46.1 318.1,46.1 318.2,46.1 318.3,46.1 318.4,46.1 318.5,46.1 318.6,46.1 318.7,46.1 318.8,46.1 318.9,46.1 319,46.1 319.1,46.1 319.2,46.1 319.3,46.1 319.4,46.1 319.45,46.1 319.46,46.1 319.5,61.43 319.54,74.85 319.6,99.77 319.61,103.6 319.66,93.18 319.7,86.22 319.8,72.99 319.9,64.13 320,58.18 320.1,54.2 320.2,51.53 320.3,49.74 320.4,48.54 320.5,47.74 320.6,47.2 320.7,46.83 320.8,46.59 320.9,46.43 321,46.32 321.1,46.25 321.2,46.2 321.3,46.17 321.4,46.14 321.5,46.13 321.6,46.12 321.7,46.11 321.8,46.11 321.9,46.11 322,46.1 322.1,46.1 322.2,46.1 322.3,46.1 322.4,46.1 322.5,46.1 322.6,46.1 322.7,46.1 322.8,46.1 322.9,46.1 323,46.1 323.1,46.1 323.2,46.1 323.3,46.1 323.4,46.1 323.5,46.1 323.6,46.1 323.7,46.1 323.74,46.1 323.75,46.1 323.8,65.27 323.82,74.85 323.9,103.6 323.95,93.18 324,84.64 324.1,71.94 324.2,63.42 324.3,57.71 324.4,53.88 324.5,51.32 324.6,49.6 324.7,48.44 324.8,47.67 324.9,47.15 325,46.81 325.1,46.57 325.2,46.42 325.3,46.31 325.4,46.24 325.5,46.2 325.6,46.16 325.7,46.14 325.8,46.13 325.9,46.12 326,46.11 326.1,46.11 326.2,46.11 326.3,46.1 326.4,46.1 326.5,46.1 326.6,46.1 326.7,46.1 326.8,46.1 326.9,46.1 327,46.1 327.1,46.1 327.2,46.1 327.3,46.1 327.4,46.1 327.5,46.1 327.6,46.1 327.7,46.1 327.8,46.1 327.9,46.1 328,46.1 328.03,46.1 328.04,46.1 328.1,69.1 328.12,74.85 328.19,103.6 328.2,101.35 328.24,93.18 328.3,83.13 328.4,70.92 328.5,62.74 328.6,57.25 328.7,53.58 328.8,51.11 328.9,49.46 329,48.35 329.1,47.61 329.2,47.11 329.3,46.78 329.4,46.55 329.5,46.4 329.6,46.3 329.7,46.24 329.8,46.19 329.9,46.16 330,46.14 330.1,46.13 330.2,46.12 330.3,46.11 330.4,46.11 330.5,46.11 330.6,46.1 330.7,46.1 330.8,46.1 330.9,46.1 331,46.1 331.1,46.1 331.2,46.1 331.3,46.1 331.4,46.1 331.5,46.1 331.6,46.1 331.7,46.1 331.8,46.1 331.9,46.1 332,46.1 332.1,46.1 332.2,46.1 332.3,46.1 332.32,46.1 332.33,46.1 332.4,72.7 332.4,74.6 332.48,103.1 332.5,98.72 332.53,92.77 332.6,81.37 332.7,69.74 332.8,61.95 332.9,56.72 333,53.22 333.1,50.87 333.2,49.3 333.3,48.24 333.4,47.54 333.5,47.06 333.6,46.75 333.7,46.53 333.8,46.39 333.9,46.29 334,46.23 334.1,46.19 334.2,46.16 334.3,46.14 334.4,46.13 334.5,46.12 334.6,46.11 334.7,46.11 334.8,46.11 334.9,46.1 335,46.1 335.1,46.1 335.2,46.1 335.3,46.1 335.4,46.1 335.5,46.1 335.6,46.1 335.7,46.1 335.8,46.1 335.9,46.1 336,46.1 336.1,46.1 336.2,46.1 336.3,46.1 336.4,46.1 336.5,46.1 336.6,46.1 336.61,46.1 336.62,46.1 336.69,74.55 336.7,76.45 336.77,103 336.8,96.57 336.82,92.69 336.9,79.93 337,68.78 337.1,61.3 337.2,56.29 337.3,52.93 337.4,50.68 337.5,49.17 337.6,48.16 337.7,47.48 337.8,47.02 337.9,46.72 338,46.52 338.1,46.38 338.2,46.29 338.3,46.23 338.4,46.18 338.5,46.16 338.6,46.14 338.7,46.13 338.8,46.12 338.9,46.11 339,46.11 339.1,46.11 339.2,46.1 339.3,46.1 339.4,46.1 339.5,46.1 339.6,46.1 339.7,46.1 339.8,46.1 339.9,46.1 340,46.1 340.1,46.1 340.2,46.1 340.3,46.1 340.4,46.1 340.5,46.1 340.6,46.1 340.7,46.1 340.8,46.1 340.9,46.1 340.91,46.1 340.99,74.55 341,80.24 341.06,103 341.1,94.59 341.11,92.69 341.2,78.6 341.3,67.89 341.4,60.7 341.5,55.89 341.6,52.66 341.7,50.5 341.8,49.05 341.9,48.08 342,47.42 342.1,46.99 342.2,46.7 342.3,46.5 342.4,46.37 342.5,46.28 342.6,46.22 342.7,46.18 342.8,46.15 342.9,46.14 343,46.12 343.1,46.12 343.2,46.11 343.3,46.11 343.4,46.1 343.5,46.1 343.6,46.1 343.7,46.1 343.8,46.1 343.9,46.1 344,46.1 344.1,46.1 344.2,46.1 344.3,46.1 344.4,46.1 344.5,46.1 344.6,46.1 344.7,46.1 344.8,46.1 344.9,46.1" fill="none" stroke="#3347ee" stroke-width="0.8" stroke-linejoin="round"/>
<path d="M73,183.78 73.1,183.72 73.2,183.68 73.3,183.64 73.4,183.6 73.5,183.58 73.6,183.56 73.7,183.55 73.8,183.55 73.9,183.56 74,183.58 74.1,183.6 74.2,183.64 74.3,183.68 74.4,183.72 74.5,183.78 74.6,183.84 74.7,183.9 74.8,183.96 74.9,184.03 75,184.1 75.1,184.17 75.2,184.24 75.3,184.3 75.4,184.36 75.5,184.42 75.6,184.48 75.7,184.52 75.8,184.56 75.9,184.6 76,184.62 76.1,184.64 76.2,184.65 76.3,184.65 76.4,184.64 76.5,184.62 76.6,184.6 76.7,184.56 76.8,184.52 76.9,184.48 77,184.42 77.1,184.36 77.2,184.3 77.3,184.24 77.4,184.17 77.5,184.1 77.6,184.03 77.7,183.96 77.8,183.9 77.9,183.84 78,183.78 78.1,183.72 78.2,183.68 78.3,183.64 78.4,183.6 78.5,183.58 78.6,183.56 78.7,183.55 78.8,183.55 78.9,183.56 79,183.58 79.1,183.6 79.2,183.64 79.3,183.68 79.4,183.72 79.5,183.78 79.6,183.84 79.7,183.9 79.8,183.96 79.9,184.03 80,184.1 80.1,184.17 80.2,184.24 80.3,184.3 80.4,184.36 80.5,184.42 80.6,184.48 80.7,184.52 80.8,184.56 80.9,184.6 81,184.62 81.1,184.64 81.2,184.65 81.3,184.65 81.4,184.64 81.5,184.62 81.6,184.6 81.7,184.56 81.8,184.52 81.9,184.48 82,184.42 82.1,184.36 82.2,184.3 82.3,184.24 82.4,184.17 82.5,184.1 82.6,184.03 82.7,183.96 82.8,183.9 82.9,183.84 83,183.78 83.1,183.72 83.2,183.68 83.3,183.64 83.4,183.6 83.5,183.58 83.6,183.56 83.7,183.55 83.8,183.55 83.9,183.56 84,183.58 84.1,183.6 84.2,183.64 84.3,183.68 84.4,183.72 84.5,183.78 84.6,183.84 84.7,183.9 84.8,183.96 84.9,184.03 85,184.1 85.1,184.17 85.2,184.24 85.3,184.3 85.4,184.36 85.5,184.42 85.6,184.48 85.7,184.52 85.8,184.56 85.9,184.6 86,184.62 86.1,184.64 86.2,184.65 86.3,184.65 86.4,184.64 86.5,184.62 86.6,184.6 86.7,184.56 86.8,184.52 86.9,184.48 87,184.42 87.1,184.36 87.2,184.3 87.3,184.24 87.4,184.17 87.5,184.1 87.6,184.03 87.7,183.96 87.8,183.9 87.9,183.84 88,183.78 88.1,183.72 88.2,183.68 88.3,183.64 88.4,183.6 88.5,183.58 88.6,183.56 88.7,183.55 88.8,183.55 88.9,183.56 89,183.58 89.1,183.6 89.2,183.64 89.3,183.68 89.4,183.72 89.5,183.78 89.6,183.84 89.7,183.9 89.8,183.96 89.9,184.03 90,184.1 90.1,184.17 90.2,184.24 90.3,184.3 90.4,184.36 90.5,184.42 90.6,184.48 90.7,184.52 90.8,184.56 90.9,184.6 91,184.62 91.1,184.64 91.2,184.65 91.3,184.65 91.4,184.64 91.5,184.62 91.6,184.6 91.7,184.56 91.8,184.52 91.9,184.48 92,184.42 92.1,184.36 92.2,184.3 92.3,184.24 92.4,184.17 92.5,184.1 92.6,184.03 92.7,183.96 92.8,183.9 92.9,183.84 93,183.78 93.1,183.72 93.2,183.68 93.3,183.64 93.4,183.6 93.5,183.58 93.6,183.56 93.7,183.55 93.8,183.55 93.9,183.56 94,183.58 94.1,183.6 94.2,183.64 94.3,183.68 94.4,183.72 94.5,183.78 94.6,183.84 94.7,183.9 94.8,183.96 94.9,184.03 95,184.1 95.1,184.17 95.2,184.24 95.3,184.3 95.4,184.36 95.5,184.42 95.6,184.48 95.7,184.52 95.8,184.56 95.9,184.6 96,184.62 96.1,184.64 96.2,184.65 96.3,184.65 96.4,184.64 96.5,184.62 96.6,184.6 96.7,184.56 96.8,184.52 96.9,184.48 97,184.42 97.1,184.36 97.2,184.3 97.3,184.24 97.4,184.17 97.5,184.1 97.6,184.03 97.7,183.96 97.8,183.9 97.9,183.84 98,183.78 98.1,183.72 98.2,183.68 98.3,183.64 98.4,183.6 98.5,183.58 98.6,183.56 98.7,183.55 98.8,183.55 98.9,183.56 99,183.58 99.1,183.6 99.2,183.64 99.3,183.68 99.4,183.72 99.5,183.78 99.6,183.84 99.7,183.9 99.8,183.96 99.9,184.03 100,184.1 100.1,184.17 100.2,184.24 100.3,184.3 100.4,184.36 100.5,184.42 100.6,184.48 100.7,184.52 100.8,184.56 100.9,184.6 101,184.62 101.1,184.64 101.2,184.65 101.3,184.65 101.4,184.64 101.5,184.62 101.6,184.6 101.7,184.56 101.8,184.52 101.9,184.48 102,184.42 102.1,184.36 102.2,184.3 102.3,184.24 102.4,184.17 102.5,184.1 102.6,184.03 102.7,183.96 102.8,183.9 102.9,183.84 103,183.78 103.1,183.72 103.2,183.68 103.3,183.64 103.4,183.6 103.5,183.58 103.6,183.56 103.7,183.55 103.8,183.55 103.9,183.56 104,183.58 104.1,183.6 104.2,183.64 104.3,183.68 104.4,183.72 104.5,183.78 104.6,183.84 104.7,183.9 104.8,183.96 104.9,184.03 105,184.1 105.1,184.17 105.2,184.24 105.3,184.3 105.4,184.36 105.5,184.42 105.6,184.48 105.7,184.52 105.8,184.56 105.9,184.6 106,184.62 106.1,184.64 106.2,184.65 106.3,184.65 106.4,184.64 106.5,184.62 106.6,184.6 106.7,184.56 106.8,184.52 106.9,184.48 107,184.42 107.1,184.36 107.2,184.3 107.3,184.24 107.4,184.17 107.5,184.1 107.6,184.03 107.7,183.96 107.8,183.9 107.9,183.84 108,183.78 108.1,183.72 108.2,183.68 108.3,183.64 108.4,183.6 108.5,183.58 108.6,183.56 108.7,183.55 108.8,183.55 108.9,183.56 109,183.58 109.1,183.6 109.2,183.64 109.3,183.68 109.4,183.72 109.5,183.78 109.6,183.84 109.7,183.9 109.8,183.96 109.9,184.03 110,184.1 110.1,184.17 110.2,184.24 110.3,184.3 110.4,184.36 110.5,184.42 110.6,184.48 110.7,184.52 110.8,184.56 110.9,184.6 111,184.62 111.1,184.64 111.2,184.65 111.3,184.65 111.4,184.64 111.5,184.62 111.6,184.6 111.7,184.56 111.8,184.52 111.9,184.48 112,184.42 112.1,184.36 112.2,184.3 112.3,184.24 112.4,184.17 112.5,184.1 112.6,184.03 112.7,183.96 112.8,183.9 112.9,183.84 113,183.78 113.1,183.72 113.2,183.68 113.3,183.64 113.4,183.6 113.5,183.58 113.6,183.56 113.7,183.55 113.8,183.55 113.9,183.56 114,183.58 114.1,183.6 114.2,183.64 114.3,183.68 114.4,183.72 114.5,183.78 114.6,183.84 114.7,183.9 114.8,183.96 114.9,184.03 115,184.1 115.1,184.17 115.2,184.24 115.3,184.3 115.4,184.36 115.5,184.42 115.6,184.48 115.7,184.52 115.8,184.56 115.9,184.6 116,184.62 116.1,184.64 116.2,184.65 116.3,184.65 116.4,184.64 116.5,184.62 116.6,184.6 116.7,184.56 116.8,184.52 116.9,184.48 117,184.42 117.1,184.36 117.2,184.3 117.3,184.24 117.4,184.17 117.5,184.1 117.6,184.03 117.7,183.96 117.8,183.9 117.9,183.84 118,183.78 118.1,183.72 118.2,183.68 118.3,183.64 118.4,183.6 118.5,183.58 118.6,183.56 118.7,183.55 118.8,183.55 118.9,183.56 119,183.58 119.1,183.6 119.2,183.64 119.3,183.68 119.4,183.72 119.5,183.78 119.6,183.84 119.7,183.9 119.8,183.96 119.9,184.03 120,184.1 120.1,184.17 120.2,184.24 120.3,184.3 120.4,184.36 120.5,184.42 120.6,184.48 120.7,184.52 120.8,184.56 120.9,184.6 121,184.62 121.1,184.64 121.2,184.65 121.3,184.65 121.4,184.64 121.5,184.62 121.6,184.6 121.7,184.56 121.8,184.52 121.9,184.48 122,184.42 122.1,184.36 122.2,184.3 122.3,184.24 122.4,184.17 122.5,184.1 122.6,184.03 122.7,183.96 122.8,183.9 122.9,183.84 123,183.78 123.1,183.72 123.2,183.68 123.3,183.64 123.4,183.6 123.5,183.58 123.6,183.56 123.7,183.55 123.8,183.55 123.9,183.56 124,183.58 124.1,183.6 124.2,183.64 124.3,183.68 124.4,183.72 124.5,183.78 124.6,183.84 124.7,183.9 124.8,183.96 124.9,184.03 125,184.1 125.1,184.17 125.2,184.24 125.3,184.3 125.4,184.36 125.5,184.42 125.6,184.48 125.7,184.52 125.8,184.56 125.9,184.6 126,184.62 126.1,184.64 126.2,184.65 126.3,184.65 126.4,184.64 126.5,184.62 126.6,184.6 126.7,184.56 126.8,184.52 126.9,184.48 127,184.42 127.1,184.36 127.2,184.3 127.3,184.24 127.4,184.17 127.5,184.1 127.6,184.03 127.7,183.96 127.8,183.9 127.9,183.84 128,183.78 128.1,183.72 128.2,183.68 128.3,183.64 128.4,183.6 128.5,183.58 128.6,183.56 128.7,183.55 128.8,183.55 128.9,183.56 129,183.58 129.1,183.6 129.2,183.64 129.3,183.68 129.4,183.72 129.5,183.78 129.6,183.84 129.7,183.9 129.8,183.96 129.9,184.03 130,184.1 130.1,184.17 130.2,184.24 130.3,184.3 130.4,184.36 130.5,184.42 130.6,184.48 130.7,184.52 130.8,184.56 130.9,184.6 131,184.62 131.1,184.64 131.2,184.65 131.3,184.65 131.4,184.64 131.5,184.62 131.6,184.6 131.7,184.56 131.8,184.52 131.9,184.48 132,184.42 132.1,184.36 132.2,184.3 132.3,184.24 132.4,184.17 132.5,184.1 132.6,184.03 132.7,183.96 132.8,183.9 132.9,183.84 133,183.78 133.1,183.72 133.2,183.68 133.3,183.64 133.4,183.6 133.5,183.58 133.6,183.56 133.7,183.55 133.8,183.55 133.9,183.56 134,183.58 134.1,183.6 134.2,183.64 134.3,183.68 134.4,183.72 134.5,183.78 134.6,183.84 134.7,183.9 134.8,183.96 134.9,184.03 135,184.1 135.1,184.17 135.2,184.24 135.3,184.3 135.4,184.36 135.5,184.42 135.6,184.48 135.7,184.52 135.8,184.56 135.9,184.6 136,184.62 136.1,184.64 136.2,184.65 136.3,184.65 136.4,184.64 136.5,184.62 136.6,184.6 136.7,184.56 136.8,184.52 136.9,184.48 137,184.42 137.1,184.36 137.2,184.3 137.3,184.24 137.4,184.17 137.5,184.1 137.6,184.03 137.7,183.96 137.8,183.9 137.9,183.84 138,183.78 138.1,183.72 138.2,183.68 138.3,183.64 138.4,183.6 138.5,183.58 138.6,183.56 138.7,183.55 138.8,183.55 138.9,183.56 139,183.58 139.1,183.6 139.2,183.64 139.3,183.68 139.4,183.72 139.5,183.78 139.6,183.84 139.7,183.9 139.8,183.96 139.9,184.03 140,184.1 140.1,184.17 140.2,184.24 140.3,184.3 140.4,184.36 140.5,184.42 140.6,184.48 140.7,184.52 140.8,184.56 140.9,184.6 141,184.62 141.1,184.64 141.2,184.65 141.3,184.65 141.4,184.64 141.5,184.62 141.6,184.6 141.7,184.56 141.8,184.52 141.9,184.48 142,184.42 142.1,184.36 142.2,184.3 142.3,184.24 142.4,184.17 142.5,184.1 142.6,184.03 142.7,183.96 142.8,183.9 142.9,183.84 143,183.78 143.1,183.72 143.2,183.68 143.3,183.64 143.4,183.6 143.5,183.58 143.6,183.56 143.7,183.55 143.8,183.55 143.9,183.56 144,183.58 144.1,183.6 144.2,183.64 144.3,183.68 144.4,183.72 144.5,183.78 144.6,183.84 144.7,183.9 144.8,183.96 144.9,184.03 145,184.1 145.1,184.17 145.2,184.24 145.3,184.3 145.4,184.36 145.5,184.42 145.6,184.48 145.7,184.52 145.8,184.56 145.9,184.6 146,184.62 146.1,184.64 146.2,184.65 146.3,184.65 146.4,184.64 146.5,184.62 146.6,184.6 146.7,184.56 146.8,184.52 146.9,184.48 147,184.42 147.1,184.36 147.2,184.3 147.3,184.24 147.4,184.17 147.5,184.1 147.6,184.03 147.7,183.96 147.8,183.9 147.9,183.84 148,183.78 148.1,183.72 148.2,183.68 148.3,183.64 148.4,183.6 148.5,183.58 148.6,183.56 148.7,183.55 148.8,183.55 148.9,183.56 149,183.58 149.1,183.6 149.2,183.64 149.3,183.68 149.4,183.72 149.5,183.78 149.6,183.84 149.7,183.9 149.8,183.96 149.9,184.03 150,184.1 150.1,184.17 150.2,184.24 150.3,184.3 150.4,184.36 150.5,184.42 150.6,184.48 150.7,184.52 150.8,184.56 150.9,184.6 151,184.62 151.1,184.64 151.2,184.65 151.3,184.65 151.4,184.64 151.5,184.62 151.6,184.6 151.7,184.56 151.8,184.52 151.9,184.48 152,184.42 152.1,184.36 152.2,184.3 152.3,184.24 152.4,184.17 152.5,184.1 152.6,184.03 152.7,183.96 152.8,183.9 152.9,183.84 153,183.78 153.1,183.72 153.2,183.68 153.3,183.64 153.4,183.6 153.5,183.58 153.6,183.56 153.7,183.55 153.8,183.55 153.9,183.56 154,183.58 154.1,183.6 154.2,183.64 154.3,183.68 154.4,183.72 154.5,183.78 154.6,183.84 154.7,183.9 154.8,183.96 154.9,184.03 155,184.1 155.1,184.17 155.2,184.24 155.3,184.3 155.4,184.36 155.5,184.42 155.6,184.48 155.7,184.52 155.8,184.56 155.9,184.6 156,184.62 156.1,184.64 156.2,184.65 156.3,184.65 156.4,184.64 156.5,184.62 156.6,184.6 156.7,184.56 156.8,184.52 156.9,184.48 157,184.42 157.1,184.36 157.19,184.31 157.2,184.3 157.28,194.1 157.3,197.37 157.35,203.9 157.4,200.84 157.5,196.05 157.6,192.59 157.7,190.1 157.8,188.29 157.9,186.98 158,186.03 158.1,185.34 158.2,184.83 158.3,184.47 158.4,184.2 158.5,184 158.6,183.87 158.7,183.77 158.8,183.71 158.9,183.67 159,183.66 159.1,183.66 159.2,183.68 159.3,183.71 159.4,183.74 159.5,183.79 159.6,183.85 159.7,183.91 159.8,183.97 159.9,184.04 160,184.1 160.1,184.17 160.2,184.24 160.3,184.3 160.4,184.37 160.5,184.42 160.6,184.48 160.7,184.52 160.8,184.56 160.9,184.6 161,184.62 161.1,184.64 161.2,184.65 161.3,184.65 161.4,184.64 161.5,184.62 161.6,184.6 161.7,184.56 161.8,184.52 161.9,184.48 162,184.42 162.1,184.36 162.2,184.3 162.3,184.24 162.4,184.17 162.5,184.1 162.6,184.03 162.7,183.96 162.8,183.9 162.9,183.84 163,183.78 163.1,183.72 163.2,183.68 163.3,183.64 163.4,183.6 163.5,183.58 163.6,183.56 163.7,183.55 163.8,183.55 163.9,183.56 164,183.58 164.1,183.6 164.2,183.64 164.3,183.68 164.4,183.72 164.5,183.78 164.6,183.84 164.7,183.9 164.8,183.96 164.9,184.03 165,184.1 165.1,184.17 165.2,184.24 165.3,184.3 165.4,184.36 165.5,184.42 165.6,184.48 165.7,184.52 165.8,184.56 165.9,184.6 166,184.62 166.1,184.64 166.2,184.65 166.3,184.65 166.4,184.64 166.5,184.62 166.6,184.6 166.7,184.56 166.8,184.52 166.9,184.48 167,184.42 167.1,184.36 167.2,184.3 167.3,184.24 167.4,184.17 167.5,184.1 167.6,184.03 167.7,183.96 167.8,183.9 167.9,183.84 168,183.78 168.1,183.72 168.2,183.68 168.3,183.64 168.4,183.6 168.5,183.58 168.6,183.56 168.7,183.55 168.8,183.55 168.9,183.56 169,183.58 169.1,183.6 169.2,183.64 169.3,183.68 169.4,183.72 169.5,183.78 169.6,183.84 169.7,183.9 169.8,183.96 169.9,184.03 170,184.1 170.1,184.17 170.2,184.24 170.3,184.3 170.4,184.36 170.5,184.42 170.6,184.48 170.7,184.52 170.8,184.56 170.9,184.6 171,184.62 171.1,184.64 171.2,184.65 171.3,184.65 171.4,184.64 171.5,184.62 171.6,184.6 171.7,184.56 171.8,184.52 171.9,184.48 172,184.42 172.1,184.36 172.2,184.3 172.3,184.24 172.4,184.17 172.5,184.1 172.6,184.03 172.7,183.96 172.8,183.9 172.9,183.84 173,183.78 173.1,183.72 173.2,183.68 173.3,183.64 173.4,183.6 173.5,183.58 173.6,183.56 173.7,183.55 173.8,183.55 173.9,183.56 174,183.58 174.1,183.6 174.2,183.64 174.3,183.68 174.4,183.72 174.5,183.78 174.6,183.84 174.7,183.9 174.8,183.96 174.9,184.03 175,184.1 175.1,184.17 175.2,184.24 175.3,184.3 175.4,184.36 175.5,184.42 175.6,184.48 175.7,184.52 175.8,184.56 175.9,184.6 176,184.62 176.1,184.64 176.2,184.65 176.3,184.65 176.4,184.64 176.5,184.62 176.6,184.6 176.7,184.56 176.8,184.52 176.9,184.48 177,184.42 177.1,184.36 177.2,184.3 177.3,184.24 177.4,184.17 177.5,184.1 177.6,184.03 177.7,183.96 177.8,183.9 177.9,183.84 178,183.78 178.1,183.72 178.2,183.68 178.3,183.64 178.4,183.6 178.5,183.58 178.6,183.56 178.7,183.55 178.8,183.55 178.9,183.56 179,183.58 179.1,183.6 179.2,183.64 179.3,183.68 179.4,183.72 179.5,183.78 179.6,183.84 179.7,183.9 179.8,183.96 179.9,184.03 180,184.1 180.1,184.17 180.2,184.24 180.3,184.3 180.4,184.36 180.5,184.42 180.6,184.48 180.7,184.52 180.8,184.56 180.9,184.6 181,184.62 181.1,184.64 181.2,184.65 181.3,184.65 181.4,184.64 181.5,184.62 181.6,184.6 181.7,184.56 181.8,184.52 181.9,184.48 182,184.42 182.1,184.36 182.2,184.3 182.3,184.24 182.4,184.17 182.5,184.1 182.6,184.03 182.7,183.96 182.8,183.9 182.9,183.84 183,183.78 183.1,183.72 183.2,183.68 183.3,183.64 183.4,183.6 183.5,183.58 183.6,183.56 183.7,183.55 183.8,183.55 183.9,183.56 184,183.58 184.1,183.6 184.2,183.64 184.3,183.68 184.4,183.72 184.5,183.78 184.6,183.84 184.7,183.9 184.8,183.96 184.9,184.03 185,184.1 185.1,184.17 185.2,184.24 185.3,184.3 185.4,184.36 185.5,184.42 185.6,184.48 185.7,184.52 185.8,184.56 185.9,184.6 186,184.62 186.1,184.64 186.2,184.65 186.3,184.65 186.4,184.64 186.5,184.62 186.6,184.6 186.7,184.56 186.8,184.52 186.9,184.48 187,184.42 187.1,184.36 187.2,184.3 187.3,184.24 187.4,184.17 187.5,184.1 187.6,184.03 187.7,183.96 187.8,183.9 187.9,183.84 188,183.78 188.1,183.72 188.2,183.68 188.3,183.64 188.4,183.6 188.5,183.58 188.6,183.56 188.7,183.55 188.8,183.55 188.9,183.56 189,183.58 189.1,183.6 189.2,183.64 189.3,183.68 189.4,183.72 189.5,183.78 189.6,183.84 189.7,183.9 189.8,183.96 189.9,184.03 190,184.1 190.1,184.17 190.2,184.24 190.3,184.3 190.4,184.36 190.5,184.42 190.6,184.48 190.7,184.52 190.8,184.56 190.9,184.6 191,184.62 191.1,184.64 191.2,184.65 191.3,184.65 191.4,184.64 191.5,184.62 191.6,184.6 191.7,184.56 191.8,184.52 191.9,184.48 192,184.42 192.1,184.36 192.2,184.3 192.3,184.24 192.4,184.17 192.5,184.1 192.6,184.03 192.7,183.96 192.8,183.9 192.9,183.84 193,183.78 193.1,183.72 193.2,183.68 193.3,183.64 193.4,183.6 193.5,183.58 193.6,183.56 193.7,183.55 193.8,183.55 193.9,183.56 194,183.58 194.1,183.6 194.2,183.64 194.3,183.68 194.4,183.72 194.5,183.78 194.6,183.84 194.7,183.9 194.8,183.96 194.9,184.03 195,184.1 195.1,184.17 195.2,184.24 195.3,184.3 195.4,184.36 195.5,184.42 195.6,184.48 195.7,184.52 195.8,184.56 195.9,184.6 196,184.62 196.1,184.64 196.2,184.65 196.3,184.65 196.4,184.64 196.5,184.62 196.6,184.6 196.7,184.56 196.8,184.52 196.9,184.48 197,184.42 197.1,184.36 197.2,184.3 197.3,184.24 197.4,184.17 197.5,184.1 197.6,184.03 197.7,183.96 197.8,183.9 197.9,183.84 198,183.78" fill="none" stroke="#111" stroke-width="1.2" stroke-linejoin="round"/>
<rect x="110.6" y="184.1" width="2.8" height="90.5" fill="#a2a2a2"/>
<rect x="113.5" y="184.1" width="1.2" height="94.9" fill="#8a8a8a"/>
<rect x="126" y="184.1" width="2.3" height="60.4" fill="#9c9c9c"/>
<rect x="128.5" y="184.1" width="1.2" height="56.9" fill="#a0a0a0"/>
<rect x="136.6" y="184.1" width="2.2" height="71.3" fill="#a4a4a4"/>
<rect x="139.6" y="184.1" width="1.6" height="59.4" fill="#9a9a9a"/>
<rect x="103.9" y="184.1" width="1.1" height="41.9" fill="#b0b0b0"/>
<rect x="106.2" y="184.1" width="1" height="45.9" fill="#b4b4b4"/>
<rect x="146" y="184.1" width="1.4" height="20.9" fill="#888"/>
<rect x="148" y="184.1" width="1.6" height="14.9" fill="#999"/>
<rect x="117" y="184.1" width="1" height="48.9" fill="#aaa"/>
<rect x="129.9" y="184.1" width="0.9" height="51.9" fill="#aaa"/>
<rect x="134" y="184.1" width="1" height="43.9" fill="#aaa"/>
<rect x="143.4" y="184.1" width="0.8" height="47.9" fill="#aaa"/>
<rect x="102.75" y="183.7" width="1.1" height="59.8" fill="#1c1c1c"/>
<rect x="104.95" y="183.7" width="1.1" height="99.1" fill="#1c1c1c"/>
<rect x="107.05" y="183.7" width="1.1" height="93.1" fill="#1c1c1c"/>
<rect x="108.95" y="183.7" width="1.1" height="61.3" fill="#1c1c1c"/>
<rect x="115.45" y="183.7" width="1.1" height="93.1" fill="#1c1c1c"/>
<rect x="118.05" y="183.7" width="1.1" height="54.7" fill="#1c1c1c"/>
<rect x="119.95" y="183.7" width="1.1" height="95.3" fill="#1c1c1c"/>
<rect x="122.05" y="183.7" width="1.1" height="94.7" fill="#1c1c1c"/>
<rect x="124.25" y="183.7" width="1.1" height="49.6" fill="#1c1c1c"/>
<rect x="130.75" y="183.7" width="1.1" height="76.3" fill="#1c1c1c"/>
<rect x="132.85" y="183.7" width="1.1" height="65.3" fill="#1c1c1c"/>
<rect x="134.85" y="183.7" width="1.1" height="48.3" fill="#1c1c1c"/>
<rect x="141.95" y="183.7" width="1.1" height="64.8" fill="#1c1c1c"/>
<rect x="143.95" y="183.7" width="1.1" height="55.5" fill="#1c1c1c"/>
<rect x="114.45" y="183.7" width="1.1" height="38.3" fill="#1c1c1c"/>
<rect x="126.75" y="183.7" width="1.1" height="40.3" fill="#1c1c1c"/>
<rect x="138.65" y="183.7" width="1.1" height="42.3" fill="#1c1c1c"/>
<rect x="145.45" y="183.7" width="1.1" height="14.3" fill="#1c1c1c"/>
<rect x="111.45" y="183.7" width="1.1" height="30.3" fill="#1c1c1c"/>
<rect x="136.45" y="183.7" width="1.1" height="34.3" fill="#1c1c1c"/>
<path d="M102.6,183.5 H146.4 V185.4 L145.5,187.2 L144.6,185.6 L143.7,187.4 L142.7,185.8 L141.8,203 L141.2,196 L140.4,206 L139.5,201 L138.3,197 L136.5,193 L135,188 L133.8,189.5 L132.6,186.6 L131.6,188.6 L130.5,186.4 L129.4,188.8 L128.3,186.6 L127.3,189 L126.4,201 L125.2,199 L124.3,194 L123,188.6 L121.8,186.5 L120.8,188.8 L119.7,186.6 L118.6,188.8 L117.5,186.5 L116.4,188.7 L115.2,186.8 L114,188.4 L113,198 L111.6,197 L110.4,191 L109.2,186.6 L108.1,188.6 L107,186.5 L105.9,188.5 L104.8,186.6 L103.8,188.4 L102.6,186.8 Z" fill="#2a2a2a"/>
<path d="M238.5,184.6 238.6,184.6 238.7,184.6 238.8,184.6 238.9,184.6 239,184.6 239.1,184.6 239.2,184.6 239.3,184.6 239.4,184.6 239.5,184.6 239.6,184.6 239.7,184.6 239.8,184.6 239.9,184.6 240,184.6 240.1,184.6 240.2,184.6 240.3,184.6 240.4,184.6 240.5,184.6 240.6,184.6 240.7,184.6 240.8,184.6 240.9,184.6 241,184.6 241.1,184.6 241.2,184.6 241.3,184.6 241.4,184.6 241.5,184.6 241.6,184.6 241.7,184.6 241.8,184.6 241.9,184.6 242,184.6 242.1,184.6 242.2,184.6 242.3,184.6 242.4,184.6 242.5,184.6 242.6,184.6 242.7,184.6 242.8,184.6 242.9,184.6 243,184.6 243.1,184.6 243.2,184.6 243.3,184.6 243.4,184.6 243.5,184.6 243.6,184.6 243.7,184.6 243.8,184.6 243.9,184.6 244,184.6 244.1,184.6 244.2,184.6 244.3,184.6 244.4,184.6 244.5,184.6 244.6,184.6 244.7,184.6 244.8,184.6 244.9,184.6 245,184.6 245.1,184.6 245.2,184.6 245.3,184.6 245.4,184.6 245.5,184.6 245.6,184.6 245.7,184.6 245.8,184.6 245.9,184.6 246,184.6 246.1,184.6 246.2,184.6 246.3,184.6 246.4,184.6 246.5,184.6 246.6,184.6 246.7,184.6 246.8,184.6 246.9,184.6 247,184.6 247.1,184.6 247.2,184.6 247.3,184.6 247.4,184.6 247.5,184.6 247.6,184.6 247.7,184.6 247.8,184.6 247.9,184.6 248,184.6 248.1,184.6 248.2,184.6 248.3,184.6 248.4,184.6 248.5,184.6 248.6,184.6 248.7,184.6 248.8,184.6 248.9,184.6 249,184.6 249.1,184.6 249.2,184.6 249.3,184.6 249.4,184.6 249.5,184.6 249.6,184.6 249.7,184.6 249.8,184.6 249.9,184.6 250,184.6 250.1,184.6 250.2,184.6 250.3,184.6 250.4,184.6 250.5,184.6 250.6,184.6 250.7,184.6 250.8,184.6 250.9,184.6 251,184.6 251.1,184.6 251.2,184.6 251.3,184.6 251.4,184.6 251.5,184.6 251.6,184.6 251.7,184.6 251.8,184.6 251.9,184.6 252,184.6 252.1,184.6 252.2,184.6 252.3,184.6 252.4,184.6 252.5,184.6 252.6,184.6 252.7,184.6 252.8,184.6 252.9,184.6 253,184.6 253.1,184.6 253.2,184.6 253.3,184.6 253.4,184.6 253.5,184.6 253.6,184.6 253.7,184.6 253.8,184.6 253.9,184.6 254,184.6 254.1,184.6 254.2,184.6 254.3,184.6 254.4,184.6 254.5,184.6 254.6,184.6 254.7,184.6 254.8,184.6 254.9,184.6 255,184.6 255.1,184.6 255.2,184.6 255.3,184.6 255.4,184.6 255.5,184.6 255.6,184.6 255.7,184.6 255.8,184.6 255.9,184.6 256,184.6 256.1,184.6 256.2,184.6 256.3,184.6 256.4,184.6 256.5,184.6 256.6,184.6 256.7,184.6 256.8,184.6 256.9,184.6 257,184.6 257.1,184.6 257.2,184.6 257.3,184.6 257.4,184.6 257.5,184.6 257.6,184.6 257.7,184.6 257.8,184.6 257.9,184.6 258,184.6 258.1,184.6 258.2,184.6 258.3,184.6 258.4,184.6 258.5,184.6 258.6,184.6 258.7,184.6 258.8,184.6 258.9,184.6 259,184.6 259.1,184.6 259.2,184.6 259.3,184.6 259.4,184.6 259.49,184.6 259.5,184.6 259.57,204.7 259.6,211.4 259.65,224.8 259.7,218.63 259.8,208.98 259.9,202.07 260,197.12 260.1,193.57 260.2,191.03 260.3,189.21 260.4,187.9 260.5,186.96 260.6,186.29 260.7,185.81 260.8,185.47 260.9,185.22 261,185.05 261.1,184.92 261.2,184.83 261.3,184.76 261.4,184.72 261.5,184.68 261.6,184.66 261.7,184.64 261.71,184.64 261.72,184.64 261.8,230.48 261.8,233.54 261.87,276.32 261.9,267.6 261.92,262.24 262,244.07 262.1,227.21 262.2,215.13 262.3,206.48 262.4,200.28 262.5,195.83 262.6,192.65 262.7,190.37 262.8,188.73 262.9,187.56 263,186.72 263.1,186.12 263.2,185.69 263.3,185.38 263.4,185.16 263.5,185 263.6,184.89 263.7,184.81 263.8,184.75 263.9,184.71 263.93,184.7 263.94,184.69 264,224.76 264.01,234.77 264.09,284.86 264.1,281.57 264.14,269.46 264.2,254.08 264.3,234.39 264.4,220.27 264.5,210.16 264.6,202.92 264.7,197.72 264.8,194 264.9,191.34 265,189.43 265.1,188.06 265.2,187.08 265.3,186.38 265.4,185.87 265.5,185.51 265.6,185.25 265.7,185.07 265.8,184.94 265.9,184.84 266,184.77 266.1,184.72 266.15,184.7 266.16,184.7 266.2,208.74 266.24,229.78 266.3,268.85 266.31,274.86 266.36,261 266.4,251.47 266.5,232.51 266.6,218.93 266.7,209.2 266.8,202.23 266.9,197.23 267,193.65 267.1,191.08 267.2,189.25 267.3,187.93 267.4,186.99 267.5,186.31 267.6,185.82 267.7,185.48 267.8,185.23 267.9,185.05 268,184.92 268.1,184.83 268.2,184.77 268.3,184.72 268.37,184.69 268.38,184.69 268.4,195.07 268.45,223.62 268.5,246.98 268.53,262.56 268.58,250.59 268.6,246.33 268.7,228.83 268.8,216.29 268.9,207.31 269,200.87 269.1,196.26 269.2,192.95 269.3,190.59 269.4,188.89 269.5,187.67 269.6,186.8 269.7,186.18 269.8,185.73 269.9,185.41 270,185.18 270.1,185.02 270.2,184.9 270.3,184.81 270.4,184.75 270.5,184.71 270.59,184.68 270.6,184.68 270.68,219.96 270.7,231.72 270.75,255.25 270.8,244.4 270.9,227.45 271,215.3 271.1,206.6 271.2,200.36 271.3,195.9 271.4,192.69 271.5,190.4 271.6,188.76 271.7,187.58 271.8,186.73 271.9,186.13 272,185.7 272.1,185.38 272.2,185.16 272.3,185 272.4,184.89 272.5,184.81 272.6,184.75 272.7,184.71 272.8,184.68 272.81,184.67 272.82,184.67 272.89,218.21 272.9,220.44 272.97,251.74 273,245.35 273.02,241.44 273.1,228.13 273.2,215.79 273.3,206.95 273.4,200.61 273.5,196.07 273.6,192.82 273.7,190.49 273.8,188.82 273.9,187.62 274,186.77 274.1,186.15 274.2,185.71 274.3,185.4 274.4,185.17 274.5,185.01 274.6,184.89 274.7,184.81 274.8,184.75 274.9,184.71 275,184.68 275.03,184.67 275.04,184.67 275.1,211.02 275.12,217.6 275.19,250.54 275.2,248.38 275.24,240.42 275.3,230.3 275.4,217.35 275.5,208.06 275.6,201.41 275.7,196.65 275.8,193.23 275.9,190.78 276,189.03 276.1,187.78 276.2,186.88 276.3,186.23 276.4,185.77 276.5,185.44 276.6,185.2 276.7,185.03 276.8,184.91 276.9,184.82 277,184.76 277.1,184.71 277.2,184.68 277.25,184.67 277.26,184.67 277.3,202.04 277.33,217.25 277.4,245.5 277.41,249.84 277.46,239.82 277.5,232.93 277.6,219.23 277.7,209.41 277.8,202.38 277.9,197.34 278,193.73 278.1,191.14 278.2,189.29 278.3,187.96 278.4,187.01 278.5,186.32 278.6,185.84 278.7,185.49 278.8,185.23 278.9,185.05 279,184.93 279.1,184.83 279.2,184.77 279.3,184.72 279.4,184.69 279.47,184.67 279.48,184.67 279.5,193.3 279.56,217.05 279.6,236.48 279.63,249.44 279.68,239.49 279.7,235.95 279.8,221.39 279.9,210.96 280,203.49 280.1,198.13 280.2,194.3 280.3,191.55 280.4,189.58 280.5,188.17 280.6,187.16 280.7,186.43 280.8,185.91 280.9,185.54 281,185.27 281.1,185.08 281.2,184.95 281.3,184.85 281.4,184.78 281.5,184.73 281.6,184.69 281.69,184.67 281.7,184.67 281.77,216.85 281.8,227.58 281.85,249.04 281.9,239.15 282,223.68 282.1,212.61 282.2,204.67 282.3,198.98 282.4,194.9 282.5,191.98 282.6,189.89 282.7,188.39 282.8,187.32 282.9,186.55 283,185.99 283.1,185.6 283.2,185.32 283.3,185.11 283.4,184.97 283.5,184.86 283.6,184.79 283.7,184.74 283.8,184.7 283.9,184.67 283.91,184.67 283.92,184.66 284,216.7 284,218.84 284.07,248.74 284.1,242.64 284.12,238.89 284.2,226.18 284.3,214.4 284.4,205.95 284.5,199.9 284.6,195.56 284.7,192.45 284.8,190.23 284.9,188.63 285,187.49 285.1,186.67 285.2,186.08 285.3,185.66 285.4,185.36 285.5,185.15 285.6,184.99 285.7,184.88 285.8,184.8 285.9,184.74 286,184.7 286.1,184.67 286.13,184.67 286.14,184.66 286.2,210.21 286.21,216.6 286.29,248.54 286.3,246.44 286.34,238.72 286.4,228.91 286.5,216.35 286.6,207.35 286.7,200.9 286.8,196.28 286.9,192.97 287,190.6 287.1,188.9 287.2,187.68 287.3,186.81 287.4,186.18 287.5,185.73 287.6,185.41 287.7,185.18 287.8,185.02 287.9,184.9 288,184.81 288.1,184.75 288.2,184.71 288.3,184.68 288.35,184.67 288.36,184.66 288.4,201.64 288.44,216.5 288.5,244.09 288.51,248.34 288.56,238.55 288.6,231.82 288.7,218.43 288.8,208.84 288.9,201.97 289,197.05 289.1,193.52 289.2,190.99 289.3,189.18 289.4,187.88 289.5,186.95 289.6,186.28 289.7,185.81 289.8,185.46 289.9,185.22 290,185.04 290.1,184.92 290.2,184.83 290.3,184.76 290.4,184.72 290.5,184.68 290.57,184.67 290.58,184.66 290.6,193.14 290.65,216.45 290.7,235.52 290.73,248.24 290.78,238.47 290.8,235 290.9,220.71 291,210.47 291.1,203.14 291.2,197.88 291.3,194.12 291.4,191.42 291.5,189.49 291.6,188.1 291.7,187.11 291.8,186.4 291.9,185.89 292,185.52 292.1,185.26 292.2,185.07 292.3,184.94 292.4,184.84 292.5,184.77 292.6,184.72 292.7,184.69 292.79,184.67 292.8,184.66 292.88,216.35 292.9,226.91 292.95,248.04 293,238.3 293.1,223.08 293.2,212.17 293.3,204.36 293.4,198.76 293.5,194.74 293.6,191.87 293.7,189.81 293.8,188.33 293.9,187.27 294,186.52 294.1,185.97 294.2,185.58 294.3,185.3 294.4,185.1 294.5,184.96 294.6,184.86 294.7,184.79 294.8,184.73 294.9,184.7 295,184.67 295.01,184.67 295.02,184.66 295.1,216.35 295.1,218.46 295.17,248.04 295.2,242 295.22,238.3 295.3,225.73 295.4,214.07 295.5,205.72 295.6,199.73 295.7,195.44 295.8,192.37 295.9,190.17 296,188.59 296.1,187.46 296.2,186.65 296.3,186.07 296.4,185.65 296.5,185.35 296.6,185.14 296.7,184.99 296.8,184.88 296.9,184.8 297,184.74 297.1,184.7 297.2,184.67 297.23,184.67 297.24,184.66 297.3,209.97 297.31,216.3 297.39,247.94 297.4,245.86 297.44,238.22 297.5,228.5 297.6,216.05 297.7,207.14 297.8,200.75 297.9,196.17 298,192.89 298.1,190.54 298.2,188.86 298.3,187.65 298.4,186.79 298.5,186.17 298.6,185.72 298.7,185.4 298.8,185.18 298.9,185.01 299,184.9 299.1,184.81 299.2,184.75 299.3,184.71 299.4,184.68 299.45,184.67 299.46,184.66 299.5,201.51 299.54,216.25 299.6,243.63 299.61,247.84 299.66,238.13 299.7,231.45 299.8,218.17 299.9,208.65 300,201.83 300.1,196.95 300.2,193.45 300.3,190.94 300.4,189.14 300.5,187.86 300.6,186.93 300.7,186.27 300.8,185.8 300.9,185.46 301,185.21 301.1,185.04 301.2,184.92 301.3,184.83 301.4,184.76 301.5,184.72 301.6,184.68 301.67,184.67 301.68,184.66 301.7,193.09 301.75,216.25 301.8,235.2 301.83,247.84 301.88,238.13 301.9,234.68 302,220.48 302.1,210.31 302.2,203.02 302.3,197.8 302.4,194.06 302.5,191.38 302.6,189.46 302.7,188.08 302.8,187.09 302.9,186.39 303,185.88 303.1,185.52 303.2,185.26 303.3,185.07 303.4,184.94 303.5,184.84 303.6,184.77 303.7,184.72 303.8,184.69 303.9,184.66 304,184.65 304.1,184.63 304.2,184.62 304.3,184.62 304.4,184.61 304.5,184.61 304.6,184.61 304.7,184.6 304.8,184.6 304.9,184.6 305,184.6 305.1,184.6 305.2,184.6 305.3,184.6 305.4,184.6 305.5,184.6 305.6,184.6 305.7,184.6 305.8,184.6 305.9,184.6 306,184.6 306.1,184.6 306.2,184.6 306.3,184.6 306.4,184.6 306.5,184.6 306.6,184.6 306.7,184.6 306.8,184.6 306.9,184.6 307,184.6 307.1,184.6 307.2,184.6 307.3,184.6 307.4,184.6 307.5,184.6 307.6,184.6 307.7,184.6 307.8,184.6 307.9,184.6 308,184.6 308.1,184.6 308.2,184.6 308.3,184.6 308.4,184.6 308.5,184.6 308.6,184.6 308.7,184.6 308.8,184.6 308.9,184.6 309,184.6 309.1,184.6 309.2,184.6 309.3,184.6 309.4,184.6 309.5,184.6 309.6,184.6 309.7,184.6 309.8,184.6 309.9,184.6 310,184.6 310.1,184.6 310.2,184.6 310.3,184.6 310.4,184.6 310.5,184.6 310.6,184.6 310.7,184.6 310.8,184.6 310.9,184.6 311,184.6 311.1,184.6 311.2,184.6 311.3,184.6 311.4,184.6 311.5,184.6 311.6,184.6 311.7,184.6 311.8,184.6 311.9,184.6 312,184.6 312.1,184.6 312.2,184.6 312.3,184.6 312.4,184.6 312.5,184.6 312.6,184.6 312.7,184.6 312.8,184.6 312.9,184.6 313,184.6 313.1,184.6 313.2,184.6 313.3,184.6 313.4,184.6 313.5,184.6 313.6,184.6 313.7,184.6 313.8,184.6 313.9,184.6 314,184.6 314.1,184.6 314.2,184.6 314.3,184.6 314.4,184.6 314.5,184.6 314.6,184.6 314.7,184.6 314.8,184.6 314.9,184.6 315,184.6 315.1,184.6 315.2,184.6 315.3,184.6 315.4,184.6 315.5,184.6 315.6,184.6 315.7,184.6 315.8,184.6 315.9,184.6 316,184.6 316.1,184.6 316.2,184.6 316.3,184.6 316.4,184.6 316.5,184.6 316.6,184.6 316.7,184.6 316.8,184.6 316.9,184.6 317,184.6 317.1,184.6 317.2,184.6 317.3,184.6 317.4,184.6 317.5,184.6 317.6,184.6 317.7,184.6 317.8,184.6 317.9,184.6 318,184.6 318.1,184.6 318.2,184.6 318.3,184.6 318.4,184.6 318.5,184.6 318.6,184.6 318.7,184.6 318.8,184.6 318.9,184.6 319,184.6 319.1,184.6 319.2,184.6 319.3,184.6 319.4,184.6 319.5,184.6 319.6,184.6 319.7,184.6 319.8,184.6 319.9,184.6 320,184.6 320.1,184.6 320.2,184.6 320.3,184.6 320.4,184.6 320.5,184.6 320.6,184.6 320.7,184.6 320.8,184.6 320.9,184.6 321,184.6 321.1,184.6 321.2,184.6 321.3,184.6 321.4,184.6 321.5,184.6 321.6,184.6 321.7,184.6 321.8,184.6 321.9,184.6 322,184.6 322.1,184.6 322.2,184.6 322.3,184.6 322.4,184.6 322.5,184.6 322.6,184.6 322.7,184.6 322.8,184.6 322.9,184.6 323,184.6 323.1,184.6 323.2,184.6 323.3,184.6 323.4,184.6 323.5,184.6 323.6,184.6 323.7,184.6 323.8,184.6 323.9,184.6 324,184.6 324.1,184.6 324.2,184.6 324.3,184.6 324.4,184.6 324.5,184.6 324.6,184.6 324.7,184.6 324.8,184.6 324.9,184.6 325,184.6 325.1,184.6 325.2,184.6 325.3,184.6 325.4,184.6 325.5,184.6 325.6,184.6 325.7,184.6 325.8,184.6 325.9,184.6 326,184.6 326.1,184.6 326.2,184.6 326.3,184.6 326.4,184.6 326.5,184.6 326.6,184.6 326.7,184.6 326.8,184.6 326.9,184.6 327,184.6 327.1,184.6 327.2,184.6 327.3,184.6 327.4,184.6 327.5,184.6 327.6,184.6 327.7,184.6 327.8,184.6 327.9,184.6 328,184.6 328.1,184.6 328.2,184.6 328.3,184.6 328.4,184.6 328.5,184.6 328.6,184.6 328.7,184.6 328.8,184.6 328.9,184.6 329,184.6 329.1,184.6 329.2,184.6 329.3,184.6 329.4,184.6 329.5,184.6 329.6,184.6 329.7,184.6 329.8,184.6 329.9,184.6 330,184.6 330.1,184.6 330.2,184.6 330.3,184.6 330.4,184.6 330.5,184.6 330.6,184.6 330.7,184.6 330.8,184.6 330.9,184.6 331,184.6 331.1,184.6 331.2,184.6 331.3,184.6 331.4,184.6 331.5,184.6 331.6,184.6 331.7,184.6 331.8,184.6 331.9,184.6 332,184.6 332.1,184.6 332.2,184.6 332.3,184.6 332.4,184.6 332.5,184.6 332.6,184.6 332.7,184.6 332.8,184.6 332.9,184.6 333,184.6 333.1,184.6 333.2,184.6 333.3,184.6 333.4,184.6 333.5,184.6 333.6,184.6 333.7,184.6 333.8,184.6 333.9,184.6 334,184.6 334.1,184.6 334.2,184.6 334.3,184.6 334.4,184.6 334.5,184.6 334.6,184.6 334.7,184.6 334.8,184.6 334.9,184.6 335,184.6 335.1,184.6 335.2,184.6 335.3,184.6 335.4,184.6 335.5,184.6 335.6,184.6 335.7,184.6 335.8,184.6 335.9,184.6 336,184.6 336.1,184.6 336.2,184.6 336.3,184.6 336.4,184.6 336.5,184.6 336.6,184.6 336.7,184.6 336.8,184.6 336.9,184.6 337,184.6 337.1,184.6 337.2,184.6 337.3,184.6 337.4,184.6 337.5,184.6 337.6,184.6 337.7,184.6 337.8,184.6 337.9,184.6 338,184.6 338.1,184.6 338.2,184.6 338.3,184.6 338.4,184.6 338.5,184.6 338.6,184.6 338.7,184.6 338.8,184.6 338.9,184.6" fill="none" stroke="#ccd2f9" stroke-width="1.5" stroke-linejoin="round"/>
<path d="M238.5,184.6 238.6,184.6 238.7,184.6 238.8,184.6 238.9,184.6 239,184.6 239.1,184.6 239.2,184.6 239.3,184.6 239.4,184.6 239.5,184.6 239.6,184.6 239.7,184.6 239.8,184.6 239.9,184.6 240,184.6 240.1,184.6 240.2,184.6 240.3,184.6 240.4,184.6 240.5,184.6 240.6,184.6 240.7,184.6 240.8,184.6 240.9,184.6 241,184.6 241.1,184.6 241.2,184.6 241.3,184.6 241.4,184.6 241.5,184.6 241.6,184.6 241.7,184.6 241.8,184.6 241.9,184.6 242,184.6 242.1,184.6 242.2,184.6 242.3,184.6 242.4,184.6 242.5,184.6 242.6,184.6 242.7,184.6 242.8,184.6 242.9,184.6 243,184.6 243.1,184.6 243.2,184.6 243.3,184.6 243.4,184.6 243.5,184.6 243.6,184.6 243.7,184.6 243.8,184.6 243.9,184.6 244,184.6 244.1,184.6 244.2,184.6 244.3,184.6 244.4,184.6 244.5,184.6 244.6,184.6 244.7,184.6 244.8,184.6 244.9,184.6 245,184.6 245.1,184.6 245.2,184.6 245.3,184.6 245.4,184.6 245.5,184.6 245.6,184.6 245.7,184.6 245.8,184.6 245.9,184.6 246,184.6 246.1,184.6 246.2,184.6 246.3,184.6 246.4,184.6 246.5,184.6 246.6,184.6 246.7,184.6 246.8,184.6 246.9,184.6 247,184.6 247.1,184.6 247.2,184.6 247.3,184.6 247.4,184.6 247.5,184.6 247.6,184.6 247.7,184.6 247.8,184.6 247.9,184.6 248,184.6 248.1,184.6 248.2,184.6 248.3,184.6 248.4,184.6 248.5,184.6 248.6,184.6 248.7,184.6 248.8,184.6 248.9,184.6 249,184.6 249.1,184.6 249.2,184.6 249.3,184.6 249.4,184.6 249.5,184.6 249.6,184.6 249.7,184.6 249.8,184.6 249.9,184.6 250,184.6 250.1,184.6 250.2,184.6 250.3,184.6 250.4,184.6 250.5,184.6 250.6,184.6 250.7,184.6 250.8,184.6 250.9,184.6 251,184.6 251.1,184.6 251.2,184.6 251.3,184.6 251.4,184.6 251.5,184.6 251.6,184.6 251.7,184.6 251.8,184.6 251.9,184.6 252,184.6 252.1,184.6 252.2,184.6 252.3,184.6 252.4,184.6 252.5,184.6 252.6,184.6 252.7,184.6 252.8,184.6 252.9,184.6 253,184.6 253.1,184.6 253.2,184.6 253.3,184.6 253.4,184.6 253.5,184.6 253.6,184.6 253.7,184.6 253.8,184.6 253.9,184.6 254,184.6 254.1,184.6 254.2,184.6 254.3,184.6 254.4,184.6 254.5,184.6 254.6,184.6 254.7,184.6 254.8,184.6 254.9,184.6 255,184.6 255.1,184.6 255.2,184.6 255.3,184.6 255.4,184.6 255.5,184.6 255.6,184.6 255.7,184.6 255.8,184.6 255.9,184.6 256,184.6 256.1,184.6 256.2,184.6 256.3,184.6 256.4,184.6 256.5,184.6 256.6,184.6 256.7,184.6 256.8,184.6 256.9,184.6 257,184.6 257.1,184.6 257.2,184.6 257.3,184.6 257.4,184.6 257.5,184.6 257.6,184.6 257.7,184.6 257.8,184.6 257.9,184.6 258,184.6 258.1,184.6 258.2,184.6 258.3,184.6 258.4,184.6 258.5,184.6 258.6,184.6 258.7,184.6 258.8,184.6 258.9,184.6 259,184.6 259.1,184.6 259.2,184.6 259.3,184.6 259.4,184.6 259.49,184.6 259.5,184.6 259.57,204.7 259.6,211.4 259.65,224.8 259.7,218.63 259.8,208.98 259.9,202.07 260,197.12 260.1,193.57 260.2,191.03 260.3,189.21 260.4,187.9 260.5,186.96 260.6,186.29 260.7,185.81 260.8,185.47 260.9,185.22 261,185.05 261.1,184.92 261.2,184.83 261.3,184.76 261.4,184.72 261.5,184.68 261.6,184.66 261.7,184.64 261.71,184.64 261.72,184.64 261.8,230.48 261.8,233.54 261.87,276.32 261.9,267.6 261.92,262.24 262,244.07 262.1,227.21 262.2,215.13 262.3,206.48 262.4,200.28 262.5,195.83 262.6,192.65 262.7,190.37 262.8,188.73 262.9,187.56 263,186.72 263.1,186.12 263.2,185.69 263.3,185.38 263.4,185.16 263.5,185 263.6,184.89 263.7,184.81 263.8,184.75 263.9,184.71 263.93,184.7 263.94,184.69 264,224.76 264.01,234.77 264.09,284.86 264.1,281.57 264.14,269.46 264.2,254.08 264.3,234.39 264.4,220.27 264.5,210.16 264.6,202.92 264.7,197.72 264.8,194 264.9,191.34 265,189.43 265.1,188.06 265.2,187.08 265.3,186.38 265.4,185.87 265.5,185.51 265.6,185.25 265.7,185.07 265.8,184.94 265.9,184.84 266,184.77 266.1,184.72 266.15,184.7 266.16,184.7 266.2,208.74 266.24,229.78 266.3,268.85 266.31,274.86 266.36,261 266.4,251.47 266.5,232.51 266.6,218.93 266.7,209.2 266.8,202.23 266.9,197.23 267,193.65 267.1,191.08 267.2,189.25 267.3,187.93 267.4,186.99 267.5,186.31 267.6,185.82 267.7,185.48 267.8,185.23 267.9,185.05 268,184.92 268.1,184.83 268.2,184.77 268.3,184.72 268.37,184.69 268.38,184.69 268.4,195.07 268.45,223.62 268.5,246.98 268.53,262.56 268.58,250.59 268.6,246.33 268.7,228.83 268.8,216.29 268.9,207.31 269,200.87 269.1,196.26 269.2,192.95 269.3,190.59 269.4,188.89 269.5,187.67 269.6,186.8 269.7,186.18 269.8,185.73 269.9,185.41 270,185.18 270.1,185.02 270.2,184.9 270.3,184.81 270.4,184.75 270.5,184.71 270.59,184.68 270.6,184.68 270.68,219.96 270.7,231.72 270.75,255.25 270.8,244.4 270.9,227.45 271,215.3 271.1,206.6 271.2,200.36 271.3,195.9 271.4,192.69 271.5,190.4 271.6,188.76 271.7,187.58 271.8,186.73 271.9,186.13 272,185.7 272.1,185.38 272.2,185.16 272.3,185 272.4,184.89 272.5,184.81 272.6,184.75 272.7,184.71 272.8,184.68 272.81,184.67 272.82,184.67 272.89,218.21 272.9,220.44 272.97,251.74 273,245.35 273.02,241.44 273.1,228.13 273.2,215.79 273.3,206.95 273.4,200.61 273.5,196.07 273.6,192.82 273.7,190.49 273.8,188.82 273.9,187.62 274,186.77 274.1,186.15 274.2,185.71 274.3,185.4 274.4,185.17 274.5,185.01 274.6,184.89 274.7,184.81 274.8,184.75 274.9,184.71 275,184.68 275.03,184.67 275.04,184.67 275.1,211.02 275.12,217.6 275.19,250.54 275.2,248.38 275.24,240.42 275.3,230.3 275.4,217.35 275.5,208.06 275.6,201.41 275.7,196.65 275.8,193.23 275.9,190.78 276,189.03 276.1,187.78 276.2,186.88 276.3,186.23 276.4,185.77 276.5,185.44 276.6,185.2 276.7,185.03 276.8,184.91 276.9,184.82 277,184.76 277.1,184.71 277.2,184.68 277.25,184.67 277.26,184.67 277.3,202.04 277.33,217.25 277.4,245.5 277.41,249.84 277.46,239.82 277.5,232.93 277.6,219.23 277.7,209.41 277.8,202.38 277.9,197.34 278,193.73 278.1,191.14 278.2,189.29 278.3,187.96 278.4,187.01 278.5,186.32 278.6,185.84 278.7,185.49 278.8,185.23 278.9,185.05 279,184.93 279.1,184.83 279.2,184.77 279.3,184.72 279.4,184.69 279.47,184.67 279.48,184.67 279.5,193.3 279.56,217.05 279.6,236.48 279.63,249.44 279.68,239.49 279.7,235.95 279.8,221.39 279.9,210.96 280,203.49 280.1,198.13 280.2,194.3 280.3,191.55 280.4,189.58 280.5,188.17 280.6,187.16 280.7,186.43 280.8,185.91 280.9,185.54 281,185.27 281.1,185.08 281.2,184.95 281.3,184.85 281.4,184.78 281.5,184.73 281.6,184.69 281.69,184.67 281.7,184.67 281.77,216.85 281.8,227.58 281.85,249.04 281.9,239.15 282,223.68 282.1,212.61 282.2,204.67 282.3,198.98 282.4,194.9 282.5,191.98 282.6,189.89 282.7,188.39 282.8,187.32 282.9,186.55 283,185.99 283.1,185.6 283.2,185.32 283.3,185.11 283.4,184.97 283.5,184.86 283.6,184.79 283.7,184.74 283.8,184.7 283.9,184.67 283.91,184.67 283.92,184.66 284,216.7 284,218.84 284.07,248.74 284.1,242.64 284.12,238.89 284.2,226.18 284.3,214.4 284.4,205.95 284.5,199.9 284.6,195.56 284.7,192.45 284.8,190.23 284.9,188.63 285,187.49 285.1,186.67 285.2,186.08 285.3,185.66 285.4,185.36 285.5,185.15 285.6,184.99 285.7,184.88 285.8,184.8 285.9,184.74 286,184.7 286.1,184.67 286.13,184.67 286.14,184.66 286.2,210.21 286.21,216.6 286.29,248.54 286.3,246.44 286.34,238.72 286.4,228.91 286.5,216.35 286.6,207.35 286.7,200.9 286.8,196.28 286.9,192.97 287,190.6 287.1,188.9 287.2,187.68 287.3,186.81 287.4,186.18 287.5,185.73 287.6,185.41 287.7,185.18 287.8,185.02 287.9,184.9 288,184.81 288.1,184.75 288.2,184.71 288.3,184.68 288.35,184.67 288.36,184.66 288.4,201.64 288.44,216.5 288.5,244.09 288.51,248.34 288.56,238.55 288.6,231.82 288.7,218.43 288.8,208.84 288.9,201.97 289,197.05 289.1,193.52 289.2,190.99 289.3,189.18 289.4,187.88 289.5,186.95 289.6,186.28 289.7,185.81 289.8,185.46 289.9,185.22 290,185.04 290.1,184.92 290.2,184.83 290.3,184.76 290.4,184.72 290.5,184.68 290.57,184.67 290.58,184.66 290.6,193.14 290.65,216.45 290.7,235.52 290.73,248.24 290.78,238.47 290.8,235 290.9,220.71 291,210.47 291.1,203.14 291.2,197.88 291.3,194.12 291.4,191.42 291.5,189.49 291.6,188.1 291.7,187.11 291.8,186.4 291.9,185.89 292,185.52 292.1,185.26 292.2,185.07 292.3,184.94 292.4,184.84 292.5,184.77 292.6,184.72 292.7,184.69 292.79,184.67 292.8,184.66 292.88,216.35 292.9,226.91 292.95,248.04 293,238.3 293.1,223.08 293.2,212.17 293.3,204.36 293.4,198.76 293.5,194.74 293.6,191.87 293.7,189.81 293.8,188.33 293.9,187.27 294,186.52 294.1,185.97 294.2,185.58 294.3,185.3 294.4,185.1 294.5,184.96 294.6,184.86 294.7,184.79 294.8,184.73 294.9,184.7 295,184.67 295.01,184.67 295.02,184.66 295.1,216.35 295.1,218.46 295.17,248.04 295.2,242 295.22,238.3 295.3,225.73 295.4,214.07 295.5,205.72 295.6,199.73 295.7,195.44 295.8,192.37 295.9,190.17 296,188.59 296.1,187.46 296.2,186.65 296.3,186.07 296.4,185.65 296.5,185.35 296.6,185.14 296.7,184.99 296.8,184.88 296.9,184.8 297,184.74 297.1,184.7 297.2,184.67 297.23,184.67 297.24,184.66 297.3,209.97 297.31,216.3 297.39,247.94 297.4,245.86 297.44,238.22 297.5,228.5 297.6,216.05 297.7,207.14 297.8,200.75 297.9,196.17 298,192.89 298.1,190.54 298.2,188.86 298.3,187.65 298.4,186.79 298.5,186.17 298.6,185.72 298.7,185.4 298.8,185.18 298.9,185.01 299,184.9 299.1,184.81 299.2,184.75 299.3,184.71 299.4,184.68 299.45,184.67 299.46,184.66 299.5,201.51 299.54,216.25 299.6,243.63 299.61,247.84 299.66,238.13 299.7,231.45 299.8,218.17 299.9,208.65 300,201.83 300.1,196.95 300.2,193.45 300.3,190.94 300.4,189.14 300.5,187.86 300.6,186.93 300.7,186.27 300.8,185.8 300.9,185.46 301,185.21 301.1,185.04 301.2,184.92 301.3,184.83 301.4,184.76 301.5,184.72 301.6,184.68 301.67,184.67 301.68,184.66 301.7,193.09 301.75,216.25 301.8,235.2 301.83,247.84 301.88,238.13 301.9,234.68 302,220.48 302.1,210.31 302.2,203.02 302.3,197.8 302.4,194.06 302.5,191.38 302.6,189.46 302.7,188.08 302.8,187.09 302.9,186.39 303,185.88 303.1,185.52 303.2,185.26 303.3,185.07 303.4,184.94 303.5,184.84 303.6,184.77 303.7,184.72 303.8,184.69 303.9,184.66 304,184.65 304.1,184.63 304.2,184.62 304.3,184.62 304.4,184.61 304.5,184.61 304.6,184.61 304.7,184.6 304.8,184.6 304.9,184.6 305,184.6 305.1,184.6 305.2,184.6 305.3,184.6 305.4,184.6 305.5,184.6 305.6,184.6 305.7,184.6 305.8,184.6 305.9,184.6 306,184.6 306.1,184.6 306.2,184.6 306.3,184.6 306.4,184.6 306.5,184.6 306.6,184.6 306.7,184.6 306.8,184.6 306.9,184.6 307,184.6 307.1,184.6 307.2,184.6 307.3,184.6 307.4,184.6 307.5,184.6 307.6,184.6 307.7,184.6 307.8,184.6 307.9,184.6 308,184.6 308.1,184.6 308.2,184.6 308.3,184.6 308.4,184.6 308.5,184.6 308.6,184.6 308.7,184.6 308.8,184.6 308.9,184.6 309,184.6 309.1,184.6 309.2,184.6 309.3,184.6 309.4,184.6 309.5,184.6 309.6,184.6 309.7,184.6 309.8,184.6 309.9,184.6 310,184.6 310.1,184.6 310.2,184.6 310.3,184.6 310.4,184.6 310.5,184.6 310.6,184.6 310.7,184.6 310.8,184.6 310.9,184.6 311,184.6 311.1,184.6 311.2,184.6 311.3,184.6 311.4,184.6 311.5,184.6 311.6,184.6 311.7,184.6 311.8,184.6 311.9,184.6 312,184.6 312.1,184.6 312.2,184.6 312.3,184.6 312.4,184.6 312.5,184.6 312.6,184.6 312.7,184.6 312.8,184.6 312.9,184.6 313,184.6 313.1,184.6 313.2,184.6 313.3,184.6 313.4,184.6 313.5,184.6 313.6,184.6 313.7,184.6 313.8,184.6 313.9,184.6 314,184.6 314.1,184.6 314.2,184.6 314.3,184.6 314.4,184.6 314.5,184.6 314.6,184.6 314.7,184.6 314.8,184.6 314.9,184.6 315,184.6 315.1,184.6 315.2,184.6 315.3,184.6 315.4,184.6 315.5,184.6 315.6,184.6 315.7,184.6 315.8,184.6 315.9,184.6 316,184.6 316.1,184.6 316.2,184.6 316.3,184.6 316.4,184.6 316.5,184.6 316.6,184.6 316.7,184.6 316.8,184.6 316.9,184.6 317,184.6 317.1,184.6 317.2,184.6 317.3,184.6 317.4,184.6 317.5,184.6 317.6,184.6 317.7,184.6 317.8,184.6 317.9,184.6 318,184.6 318.1,184.6 318.2,184.6 318.3,184.6 318.4,184.6 318.5,184.6 318.6,184.6 318.7,184.6 318.8,184.6 318.9,184.6 319,184.6 319.1,184.6 319.2,184.6 319.3,184.6 319.4,184.6 319.5,184.6 319.6,184.6 319.7,184.6 319.8,184.6 319.9,184.6 320,184.6 320.1,184.6 320.2,184.6 320.3,184.6 320.4,184.6 320.5,184.6 320.6,184.6 320.7,184.6 320.8,184.6 320.9,184.6 321,184.6 321.1,184.6 321.2,184.6 321.3,184.6 321.4,184.6 321.5,184.6 321.6,184.6 321.7,184.6 321.8,184.6 321.9,184.6 322,184.6 322.1,184.6 322.2,184.6 322.3,184.6 322.4,184.6 322.5,184.6 322.6,184.6 322.7,184.6 322.8,184.6 322.9,184.6 323,184.6 323.1,184.6 323.2,184.6 323.3,184.6 323.4,184.6 323.5,184.6 323.6,184.6 323.7,184.6 323.8,184.6 323.9,184.6 324,184.6 324.1,184.6 324.2,184.6 324.3,184.6 324.4,184.6 324.5,184.6 324.6,184.6 324.7,184.6 324.8,184.6 324.9,184.6 325,184.6 325.1,184.6 325.2,184.6 325.3,184.6 325.4,184.6 325.5,184.6 325.6,184.6 325.7,184.6 325.8,184.6 325.9,184.6 326,184.6 326.1,184.6 326.2,184.6 326.3,184.6 326.4,184.6 326.5,184.6 326.6,184.6 326.7,184.6 326.8,184.6 326.9,184.6 327,184.6 327.1,184.6 327.2,184.6 327.3,184.6 327.4,184.6 327.5,184.6 327.6,184.6 327.7,184.6 327.8,184.6 327.9,184.6 328,184.6 328.1,184.6 328.2,184.6 328.3,184.6 328.4,184.6 328.5,184.6 328.6,184.6 328.7,184.6 328.8,184.6 328.9,184.6 329,184.6 329.1,184.6 329.2,184.6 329.3,184.6 329.4,184.6 329.5,184.6 329.6,184.6 329.7,184.6 329.8,184.6 329.9,184.6 330,184.6 330.1,184.6 330.2,184.6 330.3,184.6 330.4,184.6 330.5,184.6 330.6,184.6 330.7,184.6 330.8,184.6 330.9,184.6 331,184.6 331.1,184.6 331.2,184.6 331.3,184.6 331.4,184.6 331.5,184.6 331.6,184.6 331.7,184.6 331.8,184.6 331.9,184.6 332,184.6 332.1,184.6 332.2,184.6 332.3,184.6 332.4,184.6 332.5,184.6 332.6,184.6 332.7,184.6 332.8,184.6 332.9,184.6 333,184.6 333.1,184.6 333.2,184.6 333.3,184.6 333.4,184.6 333.5,184.6 333.6,184.6 333.7,184.6 333.8,184.6 333.9,184.6 334,184.6 334.1,184.6 334.2,184.6 334.3,184.6 334.4,184.6 334.5,184.6 334.6,184.6 334.7,184.6 334.8,184.6 334.9,184.6 335,184.6 335.1,184.6 335.2,184.6 335.3,184.6 335.4,184.6 335.5,184.6 335.6,184.6 335.7,184.6 335.8,184.6 335.9,184.6 336,184.6 336.1,184.6 336.2,184.6 336.3,184.6 336.4,184.6 336.5,184.6 336.6,184.6 336.7,184.6 336.8,184.6 336.9,184.6 337,184.6 337.1,184.6 337.2,184.6 337.3,184.6 337.4,184.6 337.5,184.6 337.6,184.6 337.7,184.6 337.8,184.6 337.9,184.6 338,184.6 338.1,184.6 338.2,184.6 338.3,184.6 338.4,184.6 338.5,184.6 338.6,184.6 338.7,184.6 338.8,184.6 338.9,184.6" fill="none" stroke="#4456ee" stroke-width="0.7" stroke-linejoin="round"/>
<path d="M78.7,316.98 78.8,317.11 78.9,317.25 79,317.4 79.1,317.52 79.2,317.59 79.3,317.62 79.4,317.6 79.5,317.56 79.6,317.52 79.7,317.5 79.8,317.52 79.9,317.57 80,317.65 80.1,317.73 80.2,317.79 80.3,317.8 80.4,317.77 80.5,317.67 80.6,317.53 80.7,317.37 80.8,317.21 80.9,317.08 81,317.01 81.1,317.01 81.2,317.06 81.3,317.15 81.4,317.27 81.5,317.37 81.6,317.45 81.7,317.49 81.8,317.49 81.9,317.47 82,317.44 82.1,317.43 82.2,317.45 82.3,317.51 82.4,317.61 82.5,317.73 82.6,317.85 82.7,317.94 82.8,317.97 82.9,317.94 83,317.85 83.1,317.71 83.2,317.55 83.3,317.4 83.4,317.27 83.5,317.2 83.6,317.18 83.7,317.22 83.8,317.28 83.9,317.36 84,317.41 84.1,317.44 84.2,317.43 84.3,317.4 84.4,317.35 84.5,317.31 84.6,317.31 84.7,317.36 84.8,317.45 84.9,317.59 85,317.75 85.1,317.89 85.2,318 85.3,318.06 85.4,318.05 85.5,317.97 85.6,317.85 85.7,317.71 85.8,317.58 85.9,317.48 86,317.43 86.1,317.42 86.2,317.44 86.3,317.49 86.4,317.52 86.5,317.53 86.6,317.5 86.7,317.44 86.8,317.36 86.9,317.28 87,317.22 87.1,317.22 87.2,317.27 87.3,317.38 87.4,317.53 87.5,317.7 87.6,317.86 87.7,317.99 87.8,318.05 87.9,318.06 88,318.01 88.1,317.92 88.2,317.82 88.3,317.73 88.4,317.67 88.5,317.65 88.6,317.67 88.7,317.7 88.8,317.73 88.9,317.74 89,317.71 89.1,317.64 89.2,317.53 89.3,317.4 89.4,317.29 89.5,317.21 89.6,317.19 89.7,317.23 89.8,317.33 89.9,317.48 90,317.64 90.1,317.8 90.2,317.91 90.3,317.98 90.4,317.99 90.5,317.96 90.6,317.9 90.7,317.85 90.8,317.81 90.9,317.8 91,317.83 91.1,317.88 91.2,317.94 91.3,317.98 91.4,317.98 91.5,317.93 91.6,317.82 91.7,317.68 91.8,317.52 91.9,317.38 92,317.28 92.1,317.24 92.2,317.26 92.3,317.35 92.4,317.47 92.5,317.61 92.6,317.73 92.7,317.82 92.8,317.87 92.9,317.87 93,317.85 93.1,317.82 93.2,317.8 93.3,317.81 93.4,317.86 93.5,317.94 93.6,318.03 93.7,318.12 93.8,318.18 93.9,318.19 94,318.13 94.1,318.02 94.2,317.86 94.3,317.7 94.4,317.54 94.5,317.43 94.6,317.38 94.7,317.39 94.8,317.45 94.9,317.54 95,317.63 95.1,317.71 95.2,317.76 95.3,317.77 95.4,317.75 95.5,317.72 95.6,317.69 95.7,317.7 95.8,317.75 95.9,317.84 96,317.97 96.1,318.1 96.2,318.23 96.3,318.31 96.4,318.33 96.5,318.28 96.6,318.18 96.7,318.04 96.8,317.88 96.9,317.74 97,317.64 97.1,317.59 97.2,317.59 97.3,317.63 97.4,317.69 97.5,317.74 97.6,317.77 97.7,317.76 97.8,317.72 97.9,317.66 98,317.61 98.1,317.58 98.2,317.59 98.3,317.66 98.4,317.78 98.5,317.93 98.6,318.1 98.7,318.24 98.8,318.34 98.9,318.38 99,318.36 99.1,318.28 99.2,318.16 99.3,318.03 99.4,317.93 99.5,317.85 99.6,317.83 99.7,317.84 99.8,317.87 99.9,317.9 100,317.92 100.1,317.89 100.2,317.83 100.3,317.74 100.4,317.64 100.5,317.56 100.6,317.51 100.7,317.51 100.8,317.59 100.9,317.71 101,317.87 101.1,318.04 101.2,318.2 101.3,318.3 101.4,318.35 101.5,318.34 101.6,318.29 101.7,318.2 101.8,318.12 101.9,318.06 102,318.04 102.1,318.05 102.2,318.08 102.3,318.12 102.4,318.15 102.5,318.14 102.6,318.08 102.7,317.98 102.8,317.85 102.9,317.71 103,317.59" fill="none" stroke="#1a1a1a" stroke-width="1.5" stroke-linejoin="round"/>
<path d="M125.8,322.0 C126.3,320.2 126.6,318.2 128.6,317.5 L131,317.2" fill="none" stroke="#1a1a1a" stroke-width="1.5" stroke-linejoin="round"/>
<path d="M128.6,317.3 128.7,316.95 128.8,316.63 128.9,316.44 129,316.43 129.1,316.56 129.2,316.74 129.3,316.86 129.4,316.88 129.5,316.8 129.6,316.71 129.7,316.7 129.8,316.83 129.9,317.1 130,317.42 130.1,317.66 130.2,317.75 130.3,317.63 130.4,317.38 130.5,317.09 130.6,316.88 130.7,316.8 130.8,316.84 130.9,316.93 131,316.95 131.1,316.86 131.2,316.68 131.3,316.47 131.4,316.35 131.5,316.4 131.6,316.62 131.7,316.96 131.8,317.3 131.9,317.51 132,317.55 132.1,317.44 132.2,317.28 132.3,317.15 132.4,317.14 132.5,317.22 132.6,317.32 132.7,317.35 132.8,317.23 132.9,316.97 133,316.65 133.1,316.38 133.2,316.26 133.3,316.34 133.4,316.57 133.5,316.85 133.6,317.07 133.7,317.16 133.8,317.13 133.9,317.05 134,317.02 134.1,317.1 134.2,317.29 134.3,317.51 134.4,317.66 134.5,317.65 134.6,317.45 134.7,317.12 134.8,316.78 134.9,316.54 135,316.48 135.1,316.56 135.2,316.71 135.3,316.83 135.4,316.85 135.5,316.77 135.6,316.66 135.7,316.61 135.8,316.71 135.9,316.95 136,317.28 136.1,317.57 136.2,317.73 136.3,317.68 136.4,317.48 136.5,317.21 136.6,316.99 136.7,316.88 136.8,316.9 136.9,316.98 137,317.02 137.1,316.94 137.2,316.75 137.3,316.51 137.4,316.34 137.5,316.32 137.6,316.49 137.7,316.8 137.8,317.14 137.9,317.4 138,317.49 138.1,317.43 138.2,317.29 138.3,317.18 138.4,317.15 138.5,317.23 138.6,317.36 138.7,317.43 138.8,317.35 138.9,317.12 139,316.79 139.1,316.48 139.2,316.3 139.3,316.3 139.4,316.48 139.5,316.74 139.6,316.96 139.7,317.08 139.8,317.07 139.9,316.99 140,316.95 140.1,317.02 140.2,317.2 140.3,317.45 140.4,317.65 140.5,317.71 140.6,317.57 140.7,317.28 140.8,316.94 140.9,316.66 141,316.54 141.1,316.58 141.2,316.71 141.3,316.82 141.4,316.85 141.5,316.76 141.6,316.63 141.7,316.54 141.8,316.59 141.9,316.8 142,317.13 142.1,317.46 142.2,317.67 142.3,317.7 142.4,317.55 142.5,317.31 142.6,317.08 142.7,316.96 142.8,316.96 142.9,317.04 143,317.09 143.1,317.03 143.2,316.85 143.3,316.59 143.4,316.36 143.5,316.28 143.6,316.38 143.7,316.65 143.8,316.99 143.9,317.27 144,317.41 144.1,317.4 144.2,317.29 144.3,317.18 144.4,317.15 144.5,317.23 144.6,317.38 144.7,317.48 144.8,317.46 144.9,317.27 145,316.95 145.1,316.61 145.2,316.37 145.3,316.31 145.4,316.42 145.5,316.65 145.6,316.87 145.7,317 145.8,317 145.9,316.93 146,316.88 146.1,316.92 146.2,317.1 146.3,317.36 146.4,317.61 146.5,317.73 146.6,317.66 146.7,317.42 146.8,317.09 146.9,316.8 147,316.63 147.1,316.62 147.2,316.72 147.3,316.83 147.4,316.86 147.5,316.77 147.6,316.62 147.7,316.5 147.8,316.49 147.9,316.66 148,316.97 148.1,317.31 148.2,317.58 148.3,317.68 148.4,317.59 148.5,317.39 148.6,317.17 148.7,317.04 148.8,317.02 148.9,317.09 149,317.16 149.1,317.12 149.2,316.96 149.3,316.69 149.4,316.42 149.5,316.27 149.6,316.3 149.7,316.52 149.8,316.83 149.9,317.13 150,317.32 150.1,317.35 150.2,317.26 150.3,317.16 150.4,317.13 150.5,317.21 150.6,317.37 150.7,317.52 150.8,317.55 150.9,317.41 151,317.12 151.1,316.76 151.2,316.48 151.3,316.35 151.4,316.4 151.5,316.58 151.6,316.79 151.7,316.93 151.8,316.95 151.9,316.88 152,316.81 152.1,316.83 152.2,316.98 152.3,317.25 152.4,317.54 152.5,317.72 152.6,317.72 152.7,317.54 152.8,317.24 152.9,316.94 153,316.74 153.1,316.69 153.2,316.75 153.3,316.85 153.4,316.88 153.5,316.8 153.6,316.64 153.7,316.48 153.8,316.42 153.9,316.53 154,316.8 154.1,317.16 154.2,317.46 154.3,317.62 154.4,317.6 154.5,317.44 154.6,317.24 154.7,317.1 154.8,317.08 154.9,317.14 155,317.22 155.1,317.22 155.2,317.08 155.3,316.81 155.4,316.51 155.5,316.3 155.6,316.26 155.7,316.41 155.8,316.69 155.9,317 156,317.21 156.1,317.28 156.2,317.22 156.3,317.13 156.4,317.1 156.5,317.17 156.6,317.34 156.7,317.52 156.8,317.61 156.9,317.53 157,317.27 157.1,316.93 157.2,316.6 157.3,316.42 157.4,316.41 157.5,316.54 157.6,316.73 157.7,316.87 157.8,316.9 157.9,316.83 158,316.75 158.1,316.73 158.2,316.86 158.3,317.12 158.4,317.43 158.5,317.67 158.6,317.75 158.7,317.63 158.8,317.37 158.9,317.07 159,316.85 159.1,316.76 159.2,316.8 159.3,316.89 159.4,316.93 159.5,316.85 159.6,316.68 159.7,316.48 159.8,316.37 159.9,316.42 160,316.65 160.1,316.99 160.2,317.32 160.3,317.54 160.4,317.58 160.5,317.46 160.6,317.29 160.7,317.15 160.8,317.12 160.9,317.18 161,317.28 161.1,317.31 161.2,317.2 161.3,316.95 161.4,316.63 161.5,316.37 161.6,316.25 161.7,316.34 161.8,316.57 161.9,316.87 162,317.1 162.1,317.2 162.2,317.17 162.3,317.09 162.4,317.05 162.5,317.11 162.6,317.29 162.7,317.5 162.8,317.64 162.9,317.62 163,317.42 163.1,317.09 163.2,316.75 163.3,316.51 163.4,316.45 163.5,316.53" fill="none" stroke="#1a1a1a" stroke-width="1.3" stroke-linejoin="round"/>
<path d="M102.6,316.2 L103.2,313.8 L103.7,317.6 L104.4,318.8 L104.9,320.6 L105.6,319.8 L106.5,321.5 L107.4,320.6 L108.2,321.2 L108.8,321 L109.3,330.7 L109.8,321.4 L110.6,322.8 L111.4,321 L112.2,320.8 L113,321.2 L114,320.8 L114.8,322.8 L115.8,322.4 L116.6,320.6 L117.6,320.8 L118.7,320.4 L119.5,322 L120.4,321.6 L121,320.2 L122.1,320.2 L122.8,321.8 L123.6,320.8 L124.4,322 L125.2,321.6 L126.3,321.5 L126.3,360 L121.8,360 L121.6,335 L121.0,335 L120.8,368 L114.0,368 L114.0,345.8 L113.0,345.8 L113.0,356.7 L110.2,356.7 L110.2,370 L106.0,370 L106.0,366 L102.8,366 Z" fill="#121212"/>
<rect x="111.2" y="331" width="1.0" height="25.7" fill="#6a6a6a"/>
<rect x="118.3" y="332" width="0.9" height="26" fill="#4a4a4a"/>
<rect x="116.1" y="338" width="0.8" height="20" fill="#555"/>
<rect x="102.8" y="350" width="0.8" height="16" fill="#666"/>
<path d="M103.0,355 L112.6,355 L112.6,372 L112.0,390 L111.8,400 L111.3,409.6 L110.9,420 L110.4,424 L109.2,432 L108.8,436 L108.0,439.5 L106.7,439.5 L106.5,430 L106.2,420 L105.5,405 L104.9,400 L104.2,398 L103.6,385 L103.2,366 Z" fill="#2e2e2e"/>
<rect x="104.15" y="360" width="0.9" height="38" fill="#1a1a1a"/>
<rect x="105.45" y="360" width="0.7" height="42.8" fill="#555"/>
<rect x="106.8" y="360" width="1" height="79.2" fill="#111"/>
<rect x="107.95" y="360" width="0.9" height="76" fill="#1a1a1a"/>
<rect x="109.2" y="360" width="0.8" height="64" fill="#4a4a4a"/>
<rect x="110.2" y="360" width="0.8" height="55" fill="#1e1e1e"/>
<rect x="111.25" y="360" width="0.7" height="40" fill="#555"/>
<rect x="103.3" y="366" width="0.6" height="19" fill="#666"/>
<rect x="114.1" y="355" width="1" height="20" fill="#222"/>
<rect x="114.9" y="355" width="1" height="44.5" fill="#333"/>
<rect x="115.9" y="355" width="1" height="17" fill="#333"/>
<rect x="116.8" y="355" width="1" height="40" fill="#888"/>
<rect x="117.9" y="355" width="1" height="5" fill="#333"/>
<rect x="118.8" y="355" width="1" height="15" fill="#888"/>
<rect x="122.1" y="355" width="1" height="10" fill="#222"/>
<rect x="122.9" y="355" width="1" height="31" fill="#1a1a1a"/>
<rect x="123.9" y="355" width="1" height="9" fill="#222"/>
<rect x="124.8" y="355" width="1" height="9.7" fill="#222"/>
<rect x="125.55" y="355" width="0.9" height="4.5" fill="#777"/>
<defs><linearGradient id="g3" gradientUnits="userSpaceOnUse" x1="0" y1="322" x2="0" y2="422"><stop offset="0" stop-color="#3343ee"/><stop offset="0.25" stop-color="#4c5df0"/><stop offset="0.48" stop-color="#8592f3"/><stop offset="1" stop-color="#8d98f4"/></linearGradient></defs>
<path d="M235.3,317.6 H258.0 M282.0,317.6 H340.4" fill="none" stroke="#3347ee" stroke-width="0.9" stroke-linejoin="round"/>
<path d="M257.6,317.6 C258.2,318.6 258.8,321.6 261,322.3 C264,323 267,322.3 270,321.5 C274,320.5 278,319.9 280.6,319.6 C281.2,318.6 281.6,317.9 282.4,317.5 L282.6,318.2 L281.2,319.4 L281.2,367.4 L276,368.6 L270,369.6 L267.5,371.5 L265.4,374.5 L264.3,381 L263.4,389 L262.4,401 L261.8,416.9 L261.0,417 L260.3,405 L259.8,421.7 L259.0,421.7 L258.6,400 L258.5,358.2 L257.6,358.2 Z" fill="url(#g3)"/>
<rect x="258.1" y="321.8" width="0.6" height="36.2" fill="#2a3ae8" opacity="0.45"/>
<rect x="259.15" y="334.8" width="0.7" height="79.57" fill="#d6dbfb" opacity="0.35"/>
<rect x="260.3" y="321.8" width="0.6" height="74.72" fill="#2a3ae8" opacity="0.45"/>
<rect x="261.4" y="322.08" width="0.6" height="63.61" fill="#2a3ae8" opacity="0.45"/>
<rect x="262.45" y="329.89" width="0.7" height="49.23" fill="#d6dbfb" opacity="0.35"/>
<rect x="263.6" y="321.71" width="0.6" height="53.43" fill="#2a3ae8" opacity="0.45"/>
<rect x="264.7" y="321.52" width="0.6" height="51.2" fill="#2a3ae8" opacity="0.45"/>
<rect x="265.75" y="337.33" width="0.7" height="33.93" fill="#d6dbfb" opacity="0.35"/>
<rect x="266.9" y="321.15" width="0.6" height="49.22" fill="#2a3ae8" opacity="0.45"/>
<rect x="268" y="320.96" width="0.6" height="48.87" fill="#2a3ae8" opacity="0.45"/>
<rect x="269.05" y="331.77" width="0.7" height="37.73" fill="#d6dbfb" opacity="0.35"/>
<rect x="270.2" y="320.58" width="0.6" height="48.72" fill="#2a3ae8" opacity="0.45"/>
<rect x="271.3" y="320.4" width="0.6" height="48.79" fill="#2a3ae8" opacity="0.45"/>
<rect x="272.35" y="326.21" width="0.7" height="42.9" fill="#d6dbfb" opacity="0.35"/>
<rect x="273.5" y="320.02" width="0.6" height="49.04" fill="#2a3ae8" opacity="0.45"/>
<rect x="274.6" y="319.84" width="0.6" height="49.2" fill="#2a3ae8" opacity="0.45"/>
<rect x="275.65" y="333.65" width="0.7" height="35.38" fill="#d6dbfb" opacity="0.35"/>
<rect x="276.8" y="319.46" width="0.6" height="49.55" fill="#2a3ae8" opacity="0.45"/>
<rect x="277.9" y="319.28" width="0.6" height="49.73" fill="#2a3ae8" opacity="0.45"/>
<rect x="278.95" y="328.09" width="0.7" height="40.92" fill="#d6dbfb" opacity="0.35"/>
<rect x="280.1" y="318.9" width="0.6" height="50.1" fill="#2a3ae8" opacity="0.45"/>
<line x1="55.1" y1="45.5" x2="372.4" y2="45.5" stroke="#231f20" stroke-width="1.0" stroke-dasharray="2.0 2.4"/>
<line x1="54.7" y1="183.8" x2="355.7" y2="183.8" stroke="#231f20" stroke-width="1.0" stroke-dasharray="2.0 2.39"/>
<line x1="54.8" y1="317.4" x2="359.3" y2="317.4" stroke="#231f20" stroke-width="1.0" stroke-dasharray="2.0 2.38"/>
<text x="50.3" y="41.3" font-size="12.2" fill="#231f20" textLength="39.6" lengthAdjust="spacingAndGlyphs">-70 mV</text>
<text x="305.8" y="38.7" font-size="12.2" fill="#231f20" textLength="32" lengthAdjust="spacingAndGlyphs">50 Hz</text>
<path d="M191.4,58 V70.1 H212.3" fill="none" stroke="#231f20" stroke-width="1"/>
<text x="193.2" y="66.3" font-size="12.0" fill="#231f20" textLength="32" lengthAdjust="spacingAndGlyphs">20 pA</text>
<path d="M583 0V1190L114 955V1125L598 1409H764V0Z" transform="translate(192.8,83.1) scale(0.00579,-0.00586)" fill="#231f20"/>
<text x="199.4" y="83.1" font-size="12.0" fill="#231f20" textLength="32.3" lengthAdjust="spacingAndGlyphs" xml:space="preserve">00&#160;ms</text>
<text x="50.3" y="178.3" font-size="12.2" fill="#231f20" textLength="39.6" lengthAdjust="spacingAndGlyphs">-70 mV</text>
<path d="M583 0V1190L114 955V1125L598 1409H764V0Z" transform="translate(305.8,180.3) scale(0.00593,-0.00596)" fill="#231f20"/>
<text x="312.56" y="180.3" font-size="12.2" fill="#231f20" textLength="31.74" lengthAdjust="spacingAndGlyphs" xml:space="preserve">00&#160;Hz</text>
<path d="M191.4,210.2 V222.2 H212.3" fill="none" stroke="#231f20" stroke-width="1"/>
<text x="193.2" y="218.6" font-size="12.0" fill="#231f20" textLength="32" lengthAdjust="spacingAndGlyphs">20 pA</text>
<path d="M583 0V1190L114 955V1125L598 1409H764V0Z" transform="translate(192.8,235.2) scale(0.00579,-0.00586)" fill="#231f20"/>
<text x="199.4" y="235.2" font-size="12.0" fill="#231f20" textLength="32.3" lengthAdjust="spacingAndGlyphs" xml:space="preserve">00&#160;ms</text>
<text x="50.3" y="311.4" font-size="12.2" fill="#231f20" textLength="39.6" lengthAdjust="spacingAndGlyphs">-70 mV</text>
<text x="305" y="314" font-size="12.2" fill="#231f20" textLength="39.3" lengthAdjust="spacingAndGlyphs">200 Hz</text>
<path d="M191.4,329.1 V341.8 H212.3" fill="none" stroke="#231f20" stroke-width="1"/>
<text x="193.2" y="337.7" font-size="12.0" fill="#231f20" textLength="32" lengthAdjust="spacingAndGlyphs">20 pA</text>
<path d="M583 0V1190L114 955V1125L598 1409H764V0Z" transform="translate(192.8,354.9) scale(0.00579,-0.00586)" fill="#231f20"/>
<text x="199.4" y="354.9" font-size="12.0" fill="#231f20" textLength="32.3" lengthAdjust="spacingAndGlyphs" xml:space="preserve">00&#160;ms</text>
<rect x="467" y="229" width="1" height="2" fill="#999"/>
<line x1="527.5" y1="37" x2="527.5" y2="139.7" stroke="#6d6d6d" stroke-width="1"/>
<line x1="527.5" y1="137.4" x2="678.9" y2="137.4" stroke="#6d6d6d" stroke-width="1"/>
<line x1="526.2" y1="131.12" x2="527.5" y2="131.12" stroke="#6d6d6d" stroke-width="0.9"/>
<line x1="526.2" y1="124.85" x2="527.5" y2="124.85" stroke="#6d6d6d" stroke-width="0.9"/>
<line x1="526.2" y1="118.58" x2="527.5" y2="118.58" stroke="#6d6d6d" stroke-width="0.9"/>
<line x1="525.3" y1="112.3" x2="527.5" y2="112.3" stroke="#6d6d6d" stroke-width="0.9"/>
<line x1="526.2" y1="106.03" x2="527.5" y2="106.03" stroke="#6d6d6d" stroke-width="0.9"/>
<line x1="526.2" y1="99.75" x2="527.5" y2="99.75" stroke="#6d6d6d" stroke-width="0.9"/>
<line x1="526.2" y1="93.47" x2="527.5" y2="93.47" stroke="#6d6d6d" stroke-width="0.9"/>
<line x1="525.3" y1="87.2" x2="527.5" y2="87.2" stroke="#6d6d6d" stroke-width="0.9"/>
<line x1="526.2" y1="80.93" x2="527.5" y2="80.93" stroke="#6d6d6d" stroke-width="0.9"/>
<line x1="526.2" y1="74.65" x2="527.5" y2="74.65" stroke="#6d6d6d" stroke-width="0.9"/>
<line x1="526.2" y1="68.38" x2="527.5" y2="68.38" stroke="#6d6d6d" stroke-width="0.9"/>
<line x1="525.3" y1="62.1" x2="527.5" y2="62.1" stroke="#6d6d6d" stroke-width="0.9"/>
<line x1="526.2" y1="55.83" x2="527.5" y2="55.83" stroke="#6d6d6d" stroke-width="0.9"/>
<line x1="526.2" y1="49.55" x2="527.5" y2="49.55" stroke="#6d6d6d" stroke-width="0.9"/>
<line x1="526.2" y1="43.28" x2="527.5" y2="43.28" stroke="#6d6d6d" stroke-width="0.9"/>
<line x1="525.3" y1="37" x2="527.5" y2="37" stroke="#6d6d6d" stroke-width="0.9"/>
<line x1="525.3" y1="137.4" x2="527.5" y2="137.4" stroke="#6d6d6d" stroke-width="0.9"/>
<line x1="527.3" y1="137.4" x2="527.3" y2="139.6" stroke="#6d6d6d" stroke-width="0.9"/>
<line x1="546.19" y1="137.4" x2="546.19" y2="138.7" stroke="#6d6d6d" stroke-width="0.9"/>
<line x1="565.07" y1="137.4" x2="565.07" y2="139.6" stroke="#6d6d6d" stroke-width="0.9"/>
<line x1="583.96" y1="137.4" x2="583.96" y2="138.7" stroke="#6d6d6d" stroke-width="0.9"/>
<line x1="602.85" y1="137.4" x2="602.85" y2="139.6" stroke="#6d6d6d" stroke-width="0.9"/>
<line x1="621.74" y1="137.4" x2="621.74" y2="138.7" stroke="#6d6d6d" stroke-width="0.9"/>
<line x1="640.62" y1="137.4" x2="640.62" y2="139.6" stroke="#6d6d6d" stroke-width="0.9"/>
<line x1="659.51" y1="137.4" x2="659.51" y2="138.7" stroke="#6d6d6d" stroke-width="0.9"/>
<line x1="678.4" y1="137.4" x2="678.4" y2="139.6" stroke="#6d6d6d" stroke-width="0.9"/>
<text x="523.6" y="43.9" font-size="12.4" fill="#231f20" text-anchor="end">4.0</text>
<text x="523.6" y="67.7" font-size="12.4" fill="#231f20" text-anchor="end">3.0</text>
<text x="523.6" y="93.4" font-size="12.4" fill="#231f20" text-anchor="end">2.0</text>
<path d="M583 0V1190L114 955V1125L598 1409H764V0Z" transform="translate(506.36,117.9) scale(0.00605,-0.00605)" fill="#231f20"/>
<text x="513.26" y="117.9" font-size="12.4" fill="#231f20" xml:space="preserve">.0</text>
<text x="523.6" y="142.5" font-size="12.4" fill="#231f20" text-anchor="end">0</text>
<text x="528.2" y="151.2" font-size="12.4" fill="#231f20" text-anchor="middle">0</text>
<text x="565.4" y="151.2" font-size="12.4" fill="#231f20" text-anchor="middle">5</text>
<path d="M583 0V1190L114 955V1125L598 1409H764V0Z" transform="translate(597.4,151.2) scale(0.00605,-0.00605)" fill="#231f20"/>
<text x="604.3" y="151.2" font-size="12.4" fill="#231f20" xml:space="preserve">0</text>
<path d="M583 0V1190L114 955V1125L598 1409H764V0Z" transform="translate(633.8,151.2) scale(0.00605,-0.00605)" fill="#231f20"/>
<text x="640.7" y="151.2" font-size="12.4" fill="#231f20" xml:space="preserve">5</text>
<text x="677.6" y="151.2" font-size="12.4" fill="#231f20" text-anchor="middle">20</text>
<text x="563.2" y="164.8" font-size="15.3" fill="#231f20" textLength="121.2" lengthAdjust="spacingAndGlyphs">Number of pulses</text>
<text transform="translate(498.8,130.3) rotate(-90)" font-size="15.2" fill="#231f20"><tspan textLength="87.6" lengthAdjust="spacingAndGlyphs">EPSC/EPSC</tspan><tspan font-size="9.8" dy="4.3" dx="0.4" fill="#444">0</tspan></text>
<path d="M541.6,88.3V103.3M540.2,88.3H543M540.2,103.3H543" stroke="#3a3a3a" stroke-width="0.9" fill="none"/>
<path d="M549.2,82V107M547.8,82H550.6M547.8,107H550.6" stroke="#3a3a3a" stroke-width="0.9" fill="none"/>
<path d="M556.8,84.1V107M555.4,84.1H558.2M555.4,107H558.2" stroke="#3a3a3a" stroke-width="0.9" fill="none"/>
<path d="M564.4,85V111.5M563,85H565.8M563,111.5H565.8" stroke="#3a3a3a" stroke-width="0.9" fill="none"/>
<path d="M572,91.5V107.4M570.6,91.5H573.4M570.6,107.4H573.4" stroke="#3a3a3a" stroke-width="0.9" fill="none"/>
<path d="M579.6,96.8V112.6M578.2,96.8H581M578.2,112.6H581" stroke="#3a3a3a" stroke-width="0.9" fill="none"/>
<path d="M587.2,86V108.6M585.8,86H588.6M585.8,108.6H588.6" stroke="#3a3a3a" stroke-width="0.9" fill="none"/>
<path d="M594.8,94.1V108.6M593.4,94.1H596.2M593.4,108.6H596.2" stroke="#3a3a3a" stroke-width="0.9" fill="none"/>
<path d="M602.4,97.8V113.6M601,97.8H603.8M601,113.6H603.8" stroke="#3a3a3a" stroke-width="0.9" fill="none"/>
<path d="M610,91.2V119.5M608.6,91.2H611.4M608.6,119.5H611.4" stroke="#3a3a3a" stroke-width="0.9" fill="none"/>
<path d="M617.6,86V114.5M616.2,86H619M616.2,114.5H619" stroke="#3a3a3a" stroke-width="0.9" fill="none"/>
<path d="M625.2,92.4V115M623.8,92.4H626.6M623.8,115H626.6" stroke="#3a3a3a" stroke-width="0.9" fill="none"/>
<path d="M632.8,93.9V110.3M631.4,93.9H634.2M631.4,110.3H634.2" stroke="#3a3a3a" stroke-width="0.9" fill="none"/>
<path d="M640.4,96.4V111M639,96.4H641.8M639,111H641.8" stroke="#3a3a3a" stroke-width="0.9" fill="none"/>
<path d="M648,99.3V112.1M646.6,99.3H649.4M646.6,112.1H649.4" stroke="#3a3a3a" stroke-width="0.9" fill="none"/>
<path d="M655.6,89.3V117.4M654.2,89.3H657M654.2,117.4H657" stroke="#3a3a3a" stroke-width="0.9" fill="none"/>
<path d="M663.2,100V114.5M661.8,100H664.6M661.8,114.5H664.6" stroke="#3a3a3a" stroke-width="0.9" fill="none"/>
<path d="M670.8,94.1V114.5M669.4,94.1H672.2M669.4,114.5H672.2" stroke="#3a3a3a" stroke-width="0.9" fill="none"/>
<path d="M678.4,99.3V114.5M677,99.3H679.8M677,114.5H679.8" stroke="#3a3a3a" stroke-width="0.9" fill="none"/>
<polyline points="534,112.6 541.6,97.2 547.3,93.9" fill="none" stroke="#1a34e2" stroke-width="1.35"/>
<circle cx="534" cy="112.6" r="2.75" fill="#000"/>
<circle cx="541.6" cy="95.7" r="2.75" fill="#000"/>
<circle cx="549.2" cy="94.5" r="2.75" fill="#000"/>
<circle cx="556.8" cy="95.8" r="2.75" fill="#000"/>
<circle cx="564.4" cy="98.4" r="2.75" fill="#000"/>
<circle cx="572" cy="99.7" r="2.75" fill="#000"/>
<circle cx="579.6" cy="104.9" r="2.75" fill="#000"/>
<circle cx="587.2" cy="97.5" r="2.75" fill="#000"/>
<circle cx="594.8" cy="101.8" r="2.75" fill="#000"/>
<circle cx="602.4" cy="107.7" r="2.75" fill="#000"/>
<circle cx="610" cy="105.5" r="2.75" fill="#000"/>
<circle cx="617.6" cy="100.3" r="2.75" fill="#000"/>
<circle cx="625.2" cy="103.7" r="2.75" fill="#000"/>
<circle cx="632.8" cy="102" r="2.75" fill="#000"/>
<circle cx="640.4" cy="103.7" r="2.75" fill="#000"/>
<circle cx="648" cy="104.9" r="2.75" fill="#000"/>
<circle cx="655.6" cy="103.4" r="2.75" fill="#000"/>
<circle cx="663.2" cy="106.7" r="2.75" fill="#000"/>
<circle cx="670.8" cy="104.2" r="2.75" fill="#000"/>
<circle cx="678.4" cy="106.4" r="2.75" fill="#000"/>
<polyline points="547.3,93.9 549.2,93.7 556.8,94.8 565,96.1 572,97 580,97.5 590,98 595,98.3 603,98.8 610,99.2 620,98.6 630,98.4 640,98.4 650,98.4 660,98.5 670,98.5 679,98.5" fill="none" stroke="#1f48e4" stroke-width="2.8" stroke-linejoin="round"/>
<polyline points="547.3,93.9 549.2,93.7 556.8,94.8 565,96.1 572,97 580,97.5 590,98 595,98.3 603,98.8 610,99.2 620,98.6 630,98.4 640,98.4 650,98.4 660,98.5 670,98.5 679,98.5" fill="none" stroke="#1aa8da" stroke-width="1.3" stroke-linejoin="round"/>
<circle cx="637.4" cy="39.8" r="2.6" fill="#000"/>
<circle cx="637.4" cy="52.3" r="2.6" fill="#0000c8"/>
<text x="645.6" y="44.1" font-size="12" fill="#231f20" textLength="20.6" lengthAdjust="spacingAndGlyphs">Exp</text>
<text x="645.6" y="56.4" font-size="12" fill="#231f20" textLength="33.3" lengthAdjust="spacingAndGlyphs">Model</text>
<line x1="527.5" y1="168.2" x2="527.5" y2="270.9" stroke="#6d6d6d" stroke-width="1"/>
<line x1="527.5" y1="268.6" x2="678.9" y2="268.6" stroke="#6d6d6d" stroke-width="1"/>
<line x1="526.2" y1="262.33" x2="527.5" y2="262.33" stroke="#6d6d6d" stroke-width="0.9"/>
<line x1="526.2" y1="256.05" x2="527.5" y2="256.05" stroke="#6d6d6d" stroke-width="0.9"/>
<line x1="526.2" y1="249.78" x2="527.5" y2="249.78" stroke="#6d6d6d" stroke-width="0.9"/>
<line x1="525.3" y1="243.5" x2="527.5" y2="243.5" stroke="#6d6d6d" stroke-width="0.9"/>
<line x1="526.2" y1="237.23" x2="527.5" y2="237.23" stroke="#6d6d6d" stroke-width="0.9"/>
<line x1="526.2" y1="230.95" x2="527.5" y2="230.95" stroke="#6d6d6d" stroke-width="0.9"/>
<line x1="526.2" y1="224.68" x2="527.5" y2="224.68" stroke="#6d6d6d" stroke-width="0.9"/>
<line x1="525.3" y1="218.4" x2="527.5" y2="218.4" stroke="#6d6d6d" stroke-width="0.9"/>
<line x1="526.2" y1="212.13" x2="527.5" y2="212.13" stroke="#6d6d6d" stroke-width="0.9"/>
<line x1="526.2" y1="205.85" x2="527.5" y2="205.85" stroke="#6d6d6d" stroke-width="0.9"/>
<line x1="526.2" y1="199.58" x2="527.5" y2="199.58" stroke="#6d6d6d" stroke-width="0.9"/>
<line x1="525.3" y1="193.3" x2="527.5" y2="193.3" stroke="#6d6d6d" stroke-width="0.9"/>
<line x1="526.2" y1="187.03" x2="527.5" y2="187.03" stroke="#6d6d6d" stroke-width="0.9"/>
<line x1="526.2" y1="180.75" x2="527.5" y2="180.75" stroke="#6d6d6d" stroke-width="0.9"/>
<line x1="526.2" y1="174.48" x2="527.5" y2="174.48" stroke="#6d6d6d" stroke-width="0.9"/>
<line x1="525.3" y1="168.2" x2="527.5" y2="168.2" stroke="#6d6d6d" stroke-width="0.9"/>
<line x1="525.3" y1="268.6" x2="527.5" y2="268.6" stroke="#6d6d6d" stroke-width="0.9"/>
<line x1="527.3" y1="268.6" x2="527.3" y2="270.8" stroke="#6d6d6d" stroke-width="0.9"/>
<line x1="546.19" y1="268.6" x2="546.19" y2="269.9" stroke="#6d6d6d" stroke-width="0.9"/>
<line x1="565.07" y1="268.6" x2="565.07" y2="270.8" stroke="#6d6d6d" stroke-width="0.9"/>
<line x1="583.96" y1="268.6" x2="583.96" y2="269.9" stroke="#6d6d6d" stroke-width="0.9"/>
<line x1="602.85" y1="268.6" x2="602.85" y2="270.8" stroke="#6d6d6d" stroke-width="0.9"/>
<line x1="621.74" y1="268.6" x2="621.74" y2="269.9" stroke="#6d6d6d" stroke-width="0.9"/>
<line x1="640.62" y1="268.6" x2="640.62" y2="270.8" stroke="#6d6d6d" stroke-width="0.9"/>
<line x1="659.51" y1="268.6" x2="659.51" y2="269.9" stroke="#6d6d6d" stroke-width="0.9"/>
<line x1="678.4" y1="268.6" x2="678.4" y2="270.8" stroke="#6d6d6d" stroke-width="0.9"/>
<text x="523.6" y="175.5" font-size="12.4" fill="#231f20" text-anchor="end">4.0</text>
<text x="523.6" y="199.6" font-size="12.4" fill="#231f20" text-anchor="end">3.0</text>
<text x="523.6" y="224.9" font-size="12.4" fill="#231f20" text-anchor="end">2.0</text>
<path d="M583 0V1190L114 955V1125L598 1409H764V0Z" transform="translate(506.36,249.1) scale(0.00605,-0.00605)" fill="#231f20"/>
<text x="513.26" y="249.1" font-size="12.4" fill="#231f20" xml:space="preserve">.0</text>
<text x="523.6" y="271.4" font-size="12.4" fill="#231f20" text-anchor="end">0</text>
<text x="528.2" y="282.8" font-size="12.4" fill="#231f20" text-anchor="middle">0</text>
<text x="565.4" y="282.8" font-size="12.4" fill="#231f20" text-anchor="middle">5</text>
<path d="M583 0V1190L114 955V1125L598 1409H764V0Z" transform="translate(597.4,282.8) scale(0.00605,-0.00605)" fill="#231f20"/>
<text x="604.3" y="282.8" font-size="12.4" fill="#231f20" xml:space="preserve">0</text>
<path d="M583 0V1190L114 955V1125L598 1409H764V0Z" transform="translate(633.8,282.8) scale(0.00605,-0.00605)" fill="#231f20"/>
<text x="640.7" y="282.8" font-size="12.4" fill="#231f20" xml:space="preserve">5</text>
<text x="677.6" y="282.8" font-size="12.4" fill="#231f20" text-anchor="middle">20</text>
<text x="563.2" y="296.9" font-size="15.3" fill="#231f20" textLength="121.2" lengthAdjust="spacingAndGlyphs">Number of pulses</text>
<text transform="translate(498.8,263.4) rotate(-90)" font-size="15.2" fill="#231f20"><tspan textLength="87.6" lengthAdjust="spacingAndGlyphs">EPSC/EPSC</tspan><tspan font-size="9.8" dy="4.3" dx="0.4" fill="#444">0</tspan></text>
<path d="M541.6,201.2V218.1M540.2,201.2H543M540.2,218.1H543" stroke="#3a3a3a" stroke-width="0.9" fill="none"/>
<path d="M549.2,203.4V218.1M547.8,203.4H550.6M547.8,218.1H550.6" stroke="#3a3a3a" stroke-width="0.9" fill="none"/>
<path d="M556.8,189.1V215.9M555.4,189.1H558.2M555.4,215.9H558.2" stroke="#3a3a3a" stroke-width="0.9" fill="none"/>
<path d="M564.4,209.3V227.4M563,209.3H565.8M563,227.4H565.8" stroke="#3a3a3a" stroke-width="0.9" fill="none"/>
<path d="M572,215.9V229.9M570.6,215.9H573.4M570.6,229.9H573.4" stroke="#3a3a3a" stroke-width="0.9" fill="none"/>
<path d="M579.6,216.2V229.9M578.2,216.2H581M578.2,229.9H581" stroke="#3a3a3a" stroke-width="0.9" fill="none"/>
<path d="M587.2,228.9V239.5M585.8,228.9H588.6M585.8,239.5H588.6" stroke="#3a3a3a" stroke-width="0.9" fill="none"/>
<path d="M594.8,228.4V237.3M593.4,228.4H596.2M593.4,237.3H596.2" stroke="#3a3a3a" stroke-width="0.9" fill="none"/>
<path d="M602.4,217.2V242.2M601,217.2H603.8M601,242.2H603.8" stroke="#3a3a3a" stroke-width="0.9" fill="none"/>
<path d="M610,217.4V232.5M608.6,217.4H611.4M608.6,232.5H611.4" stroke="#3a3a3a" stroke-width="0.9" fill="none"/>
<path d="M617.6,216.3V228.5M616.2,216.3H619M616.2,228.5H619" stroke="#3a3a3a" stroke-width="0.9" fill="none"/>
<path d="M625.2,224.8V241M623.8,224.8H626.6M623.8,241H626.6" stroke="#3a3a3a" stroke-width="0.9" fill="none"/>
<path d="M632.8,227.8V235.4M631.4,227.8H634.2M631.4,235.4H634.2" stroke="#3a3a3a" stroke-width="0.9" fill="none"/>
<path d="M640.4,225.6V240.3M639,225.6H641.8M639,240.3H641.8" stroke="#3a3a3a" stroke-width="0.9" fill="none"/>
<path d="M648,219.7V233.4M646.6,219.7H649.4M646.6,233.4H649.4" stroke="#3a3a3a" stroke-width="0.9" fill="none"/>
<path d="M655.6,221.6V237.4M654.2,221.6H657M654.2,237.4H657" stroke="#3a3a3a" stroke-width="0.9" fill="none"/>
<path d="M663.2,218.6V233.7M661.8,218.6H664.6M661.8,233.7H664.6" stroke="#3a3a3a" stroke-width="0.9" fill="none"/>
<path d="M670.8,219.4V237.4M669.4,219.4H672.2M669.4,237.4H672.2" stroke="#3a3a3a" stroke-width="0.9" fill="none"/>
<path d="M678.4,220.4V239.3M677,220.4H679.8M677,239.3H679.8" stroke="#3a3a3a" stroke-width="0.9" fill="none"/>
<polyline points="534,243.6 538.4,214.6" fill="none" stroke="#1a34e2" stroke-width="1.35"/>
<circle cx="534" cy="243.6" r="2.75" fill="#000"/>
<circle cx="541.6" cy="210" r="2.75" fill="#000"/>
<circle cx="549.2" cy="209.3" r="2.75" fill="#000"/>
<circle cx="556.8" cy="202.7" r="2.75" fill="#000"/>
<circle cx="564.4" cy="218.9" r="2.75" fill="#000"/>
<circle cx="572" cy="223.6" r="2.75" fill="#000"/>
<circle cx="579.6" cy="223" r="2.75" fill="#000"/>
<circle cx="587.2" cy="234" r="2.75" fill="#000"/>
<circle cx="594.8" cy="232.1" r="2.75" fill="#000"/>
<circle cx="602.4" cy="229.5" r="2.75" fill="#000"/>
<circle cx="610" cy="224.8" r="2.75" fill="#000"/>
<circle cx="617.6" cy="222.3" r="2.75" fill="#000"/>
<circle cx="625.2" cy="232.9" r="2.75" fill="#000"/>
<circle cx="632.8" cy="231.5" r="2.75" fill="#000"/>
<circle cx="640.4" cy="232.9" r="2.75" fill="#000"/>
<circle cx="648" cy="226.6" r="2.75" fill="#000"/>
<circle cx="655.6" cy="229.2" r="2.75" fill="#000"/>
<circle cx="663.2" cy="226.3" r="2.75" fill="#000"/>
<circle cx="670.8" cy="228.5" r="2.75" fill="#000"/>
<circle cx="678.4" cy="229.2" r="2.75" fill="#000"/>
<polyline points="538.4,214.6 542.7,213.3 546,212.6 550.1,212.2 556,212.3 559,213 561.9,214.3 565,216.8 567.8,219.6 572.2,223.6 576.6,225.1 586.9,227 594.3,227.7 607.5,228.1 612,229 618,229.8 625,229 633,227.4 638,228.4 645,229.2 660,228.8 670,229 683,229.6" fill="none" stroke="#1f48e4" stroke-width="2.8" stroke-linejoin="round"/>
<polyline points="538.4,214.6 542.7,213.3 546,212.6 550.1,212.2 556,212.3 559,213 561.9,214.3 565,216.8 567.8,219.6 572.2,223.6 576.6,225.1 586.9,227 594.3,227.7 607.5,228.1 612,229 618,229.8 625,229 633,227.4 638,228.4 645,229.2 660,228.8 670,229 683,229.6" fill="none" stroke="#1aa8da" stroke-width="1.3" stroke-linejoin="round"/>
<line x1="527.5" y1="306.29" x2="527.5" y2="410.7" stroke="#6d6d6d" stroke-width="1"/>
<line x1="527.5" y1="408.4" x2="678.9" y2="408.4" stroke="#6d6d6d" stroke-width="1"/>
<line x1="526.2" y1="406.3" x2="527.5" y2="406.3" stroke="#6d6d6d" stroke-width="0.9"/>
<line x1="526.2" y1="399.63" x2="527.5" y2="399.63" stroke="#6d6d6d" stroke-width="0.9"/>
<line x1="526.2" y1="392.97" x2="527.5" y2="392.97" stroke="#6d6d6d" stroke-width="0.9"/>
<line x1="525.3" y1="386.3" x2="527.5" y2="386.3" stroke="#6d6d6d" stroke-width="0.9"/>
<line x1="526.2" y1="379.63" x2="527.5" y2="379.63" stroke="#6d6d6d" stroke-width="0.9"/>
<line x1="526.2" y1="372.97" x2="527.5" y2="372.97" stroke="#6d6d6d" stroke-width="0.9"/>
<line x1="526.2" y1="366.3" x2="527.5" y2="366.3" stroke="#6d6d6d" stroke-width="0.9"/>
<line x1="525.3" y1="359.63" x2="527.5" y2="359.63" stroke="#6d6d6d" stroke-width="0.9"/>
<line x1="526.2" y1="352.96" x2="527.5" y2="352.96" stroke="#6d6d6d" stroke-width="0.9"/>
<line x1="526.2" y1="346.3" x2="527.5" y2="346.3" stroke="#6d6d6d" stroke-width="0.9"/>
<line x1="526.2" y1="339.63" x2="527.5" y2="339.63" stroke="#6d6d6d" stroke-width="0.9"/>
<line x1="525.3" y1="332.96" x2="527.5" y2="332.96" stroke="#6d6d6d" stroke-width="0.9"/>
<line x1="526.2" y1="326.29" x2="527.5" y2="326.29" stroke="#6d6d6d" stroke-width="0.9"/>
<line x1="526.2" y1="319.62" x2="527.5" y2="319.62" stroke="#6d6d6d" stroke-width="0.9"/>
<line x1="526.2" y1="312.96" x2="527.5" y2="312.96" stroke="#6d6d6d" stroke-width="0.9"/>
<line x1="525.3" y1="306.29" x2="527.5" y2="306.29" stroke="#6d6d6d" stroke-width="0.9"/>
<line x1="525.3" y1="408.4" x2="527.5" y2="408.4" stroke="#6d6d6d" stroke-width="0.9"/>
<line x1="527.3" y1="408.4" x2="527.3" y2="410.6" stroke="#6d6d6d" stroke-width="0.9"/>
<line x1="546.19" y1="408.4" x2="546.19" y2="409.7" stroke="#6d6d6d" stroke-width="0.9"/>
<line x1="565.07" y1="408.4" x2="565.07" y2="410.6" stroke="#6d6d6d" stroke-width="0.9"/>
<line x1="583.96" y1="408.4" x2="583.96" y2="409.7" stroke="#6d6d6d" stroke-width="0.9"/>
<line x1="602.85" y1="408.4" x2="602.85" y2="410.6" stroke="#6d6d6d" stroke-width="0.9"/>
<line x1="621.74" y1="408.4" x2="621.74" y2="409.7" stroke="#6d6d6d" stroke-width="0.9"/>
<line x1="640.62" y1="408.4" x2="640.62" y2="410.6" stroke="#6d6d6d" stroke-width="0.9"/>
<line x1="659.51" y1="408.4" x2="659.51" y2="409.7" stroke="#6d6d6d" stroke-width="0.9"/>
<line x1="678.4" y1="408.4" x2="678.4" y2="410.6" stroke="#6d6d6d" stroke-width="0.9"/>
<text x="523.6" y="314.1" font-size="12.4" fill="#231f20" text-anchor="end">4.0</text>
<text x="523.6" y="337.8" font-size="12.4" fill="#231f20" text-anchor="end">3.0</text>
<text x="523.6" y="365.3" font-size="12.4" fill="#231f20" text-anchor="end">2.0</text>
<path d="M583 0V1190L114 955V1125L598 1409H764V0Z" transform="translate(506.36,389.8) scale(0.00605,-0.00605)" fill="#231f20"/>
<text x="513.26" y="389.8" font-size="12.4" fill="#231f20" xml:space="preserve">.0</text>
<text x="523.6" y="409.4" font-size="12.4" fill="#231f20" text-anchor="end">0</text>
<text x="528.2" y="422.3" font-size="12.4" fill="#231f20" text-anchor="middle">0</text>
<text x="565.4" y="422.3" font-size="12.4" fill="#231f20" text-anchor="middle">5</text>
<path d="M583 0V1190L114 955V1125L598 1409H764V0Z" transform="translate(597.4,422.3) scale(0.00605,-0.00605)" fill="#231f20"/>
<text x="604.3" y="422.3" font-size="12.4" fill="#231f20" xml:space="preserve">0</text>
<path d="M583 0V1190L114 955V1125L598 1409H764V0Z" transform="translate(633.8,422.3) scale(0.00605,-0.00605)" fill="#231f20"/>
<text x="640.7" y="422.3" font-size="12.4" fill="#231f20" xml:space="preserve">5</text>
<text x="677.6" y="422.3" font-size="12.4" fill="#231f20" text-anchor="middle">20</text>
<text x="563.2" y="436" font-size="15.3" fill="#231f20" textLength="121.2" lengthAdjust="spacingAndGlyphs">Number of pulses</text>
<text transform="translate(498.8,400.4) rotate(-90)" font-size="15.2" fill="#231f20"><tspan textLength="87.6" lengthAdjust="spacingAndGlyphs">EPSC/EPSC</tspan><tspan font-size="9.8" dy="4.3" dx="0.4" fill="#444">0</tspan></text>
<path d="M541.6,346.7V370.8M540.2,346.7H543M540.2,370.8H543" stroke="#3a3a3a" stroke-width="0.9" fill="none"/>
<path d="M549.2,327.4V356M547.8,327.4H550.6M547.8,356H550.6" stroke="#3a3a3a" stroke-width="0.9" fill="none"/>
<path d="M556.8,323.5V372.7M555.4,323.5H558.2M555.4,372.7H558.2" stroke="#3a3a3a" stroke-width="0.9" fill="none"/>
<path d="M564.4,317.3V361.2M563,317.3H565.8M563,361.2H565.8" stroke="#3a3a3a" stroke-width="0.9" fill="none"/>
<path d="M572,366V381.4M570.6,366H573.4M570.6,381.4H573.4" stroke="#3a3a3a" stroke-width="0.9" fill="none"/>
<path d="M579.6,345.3V376.9M578.2,345.3H581M578.2,376.9H581" stroke="#3a3a3a" stroke-width="0.9" fill="none"/>
<path d="M587.2,356V380.3M585.8,356H588.6M585.8,380.3H588.6" stroke="#3a3a3a" stroke-width="0.9" fill="none"/>
<path d="M594.8,364.5V389.4M593.4,364.5H596.2M593.4,389.4H596.2" stroke="#3a3a3a" stroke-width="0.9" fill="none"/>
<path d="M602.4,361.6V388.1M601,361.6H603.8M601,388.1H603.8" stroke="#3a3a3a" stroke-width="0.9" fill="none"/>
<path d="M610,368.2V389.4M608.6,368.2H611.4M608.6,389.4H611.4" stroke="#3a3a3a" stroke-width="0.9" fill="none"/>
<path d="M617.6,355.2V376.6M616.2,355.2H619M616.2,376.6H619" stroke="#3a3a3a" stroke-width="0.9" fill="none"/>
<path d="M625.2,361.3V389.4M623.8,361.3H626.6M623.8,389.4H626.6" stroke="#3a3a3a" stroke-width="0.9" fill="none"/>
<path d="M632.8,365.7V388.1M631.4,365.7H634.2M631.4,388.1H634.2" stroke="#3a3a3a" stroke-width="0.9" fill="none"/>
<path d="M640.4,352.5V386.2M639,352.5H641.8M639,386.2H641.8" stroke="#3a3a3a" stroke-width="0.9" fill="none"/>
<path d="M648,373V390.7M646.6,373H649.4M646.6,390.7H649.4" stroke="#3a3a3a" stroke-width="0.9" fill="none"/>
<path d="M655.6,353.6V384.3M654.2,353.6H657M654.2,384.3H657" stroke="#3a3a3a" stroke-width="0.9" fill="none"/>
<path d="M663.2,381.7V395.5M661.8,381.7H664.6M661.8,395.5H664.6" stroke="#3a3a3a" stroke-width="0.9" fill="none"/>
<path d="M670.8,378.2V395.5M669.4,378.2H672.2M669.4,395.5H672.2" stroke="#3a3a3a" stroke-width="0.9" fill="none"/>
<path d="M678.4,367.3V386.5M677,367.3H679.8M677,386.5H679.8" stroke="#3a3a3a" stroke-width="0.9" fill="none"/>
<polyline points="534.2,386.3 540.5,349.6" fill="none" stroke="#1a34e2" stroke-width="1.35"/>
<circle cx="534" cy="386.3" r="2.75" fill="#000"/>
<circle cx="541.6" cy="361.2" r="2.75" fill="#000"/>
<circle cx="549.2" cy="341.5" r="2.75" fill="#000"/>
<circle cx="556.8" cy="348" r="2.75" fill="#000"/>
<circle cx="564.4" cy="339.5" r="2.75" fill="#000"/>
<circle cx="572" cy="373.3" r="2.75" fill="#000"/>
<circle cx="579.6" cy="361" r="2.75" fill="#000"/>
<circle cx="587.2" cy="368.2" r="2.75" fill="#000"/>
<circle cx="594.8" cy="377.4" r="2.75" fill="#000"/>
<circle cx="602.4" cy="373" r="2.75" fill="#000"/>
<circle cx="610" cy="379" r="2.75" fill="#000"/>
<circle cx="617.6" cy="366.6" r="2.75" fill="#000"/>
<circle cx="625.2" cy="375.3" r="2.75" fill="#000"/>
<circle cx="632.8" cy="376.9" r="2.75" fill="#000"/>
<circle cx="640.4" cy="369.3" r="2.75" fill="#000"/>
<circle cx="648" cy="381.7" r="2.75" fill="#000"/>
<circle cx="655.6" cy="369" r="2.75" fill="#000"/>
<circle cx="663.2" cy="388.6" r="2.75" fill="#000"/>
<circle cx="670.8" cy="386.2" r="2.75" fill="#000"/>
<circle cx="678.4" cy="377.9" r="2.75" fill="#000"/>
<polyline points="540.5,349.6 543,349.1 548,349.1 553,350.5 558,354 563,358.3 570,365 575,368.8 580,371.4 587,373.4 595,374.9 600,375.4 610,376.6 620,377.5 640,378.1 655,379.3 662.8,380.4 668,378.6 672,377.4 678,376.6 682.5,376.2" fill="none" stroke="#1f48e4" stroke-width="2.8" stroke-linejoin="round"/>
<polyline points="540.5,349.6 543,349.1 548,349.1 553,350.5 558,354 563,358.3 570,365 575,368.8 580,371.4 587,373.4 595,374.9 600,375.4 610,376.6 620,377.5 640,378.1 655,379.3 662.8,380.4 668,378.6 672,377.4 678,376.6 682.5,376.2" fill="none" stroke="#1aa8da" stroke-width="1.3" stroke-linejoin="round"/>
</svg>
</body></html>
